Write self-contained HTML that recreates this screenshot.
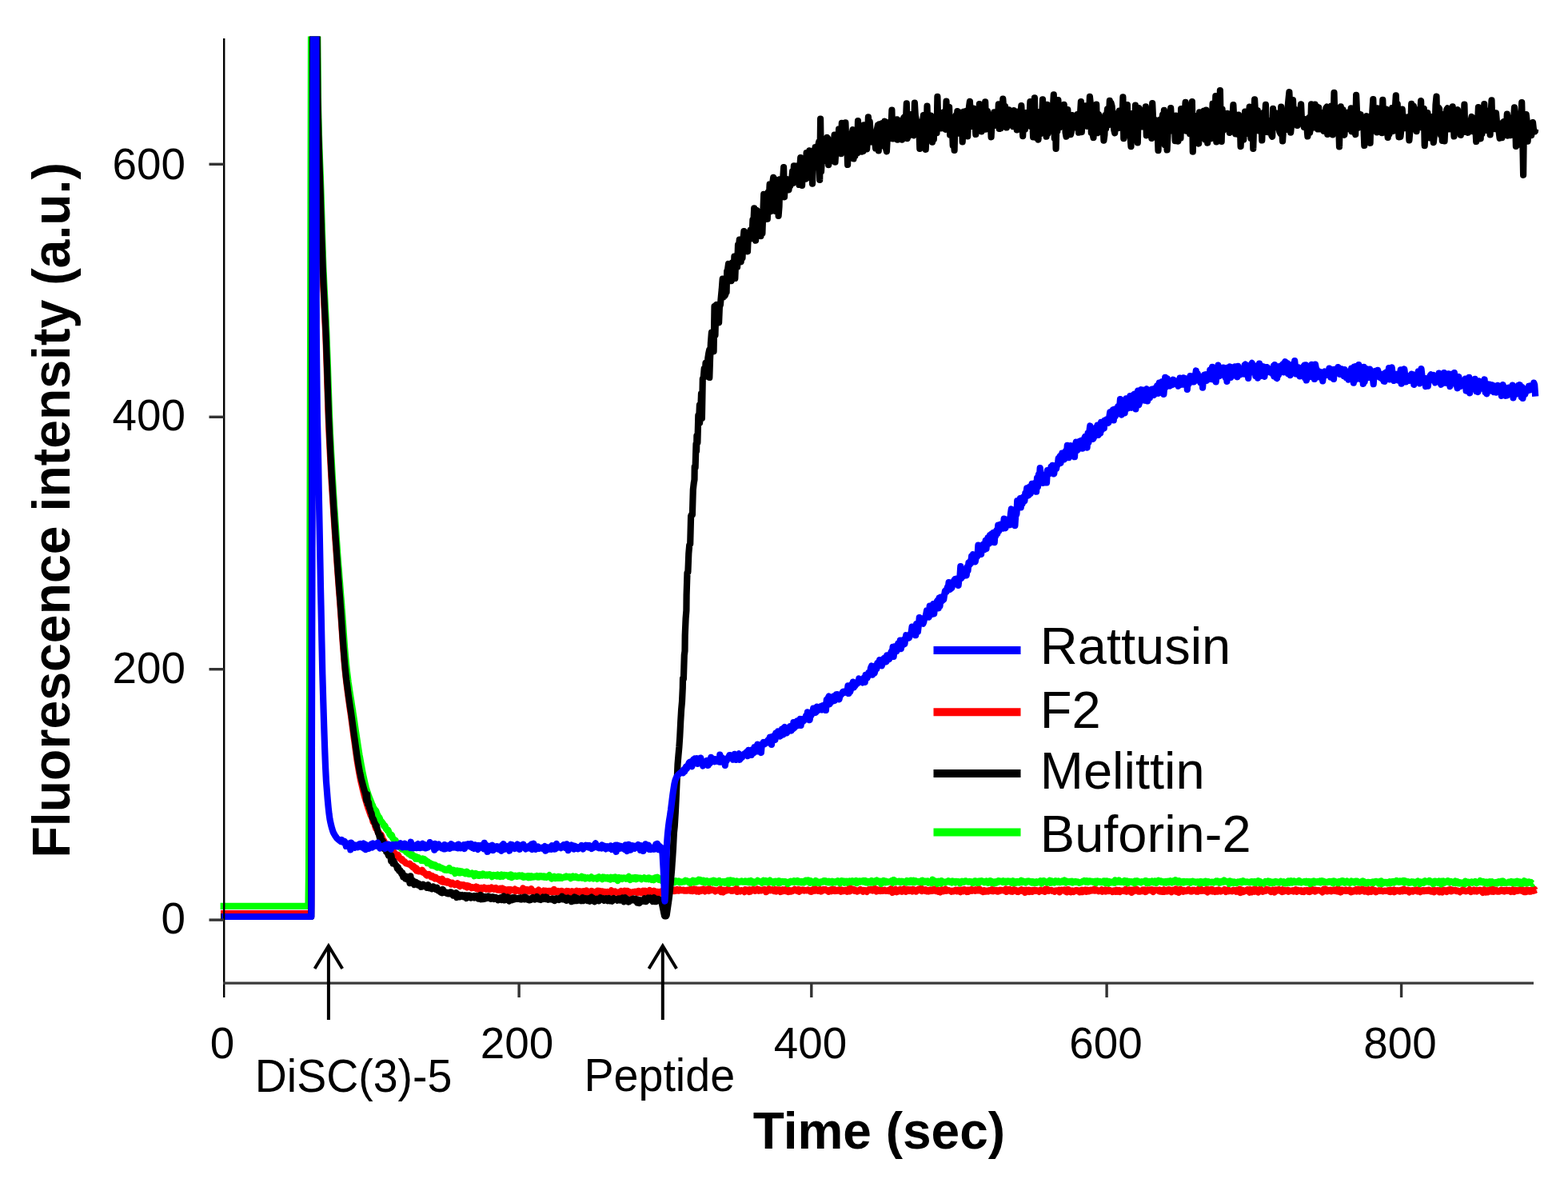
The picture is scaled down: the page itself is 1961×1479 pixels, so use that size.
<!DOCTYPE html>
<html lang="en"><head><meta charset="utf-8"><title>Membrane depolarization (DiSC(3)-5) fluorescence</title>
<style>
html,body{margin:0;padding:0;background:#fff;width:1961px;height:1479px;overflow:hidden;}
svg{display:block;}
</style></head><body>
<svg width="1961" height="1479" viewBox="0 0 1961 1479">
<rect width="1961" height="1479" fill="#fff"/>
<defs><clipPath id="pc"><rect x="270" y="45.5" width="1680" height="1183"/></clipPath></defs>
<g clip-path="url(#pc)" fill="none" stroke-width="8.2" stroke-linejoin="round" stroke-linecap="butt">
<path stroke="#ff0000" d="M276.0 1142.2L276.9 1142.2L277.8 1142.2L278.7 1142.2L279.6 1142.2L280.6 1142.2L281.5 1142.2L282.4 1142.2L283.3 1142.2L284.2 1142.2L285.2 1142.2L286.1 1142.2L287.0 1142.2L287.9 1142.2L288.8 1142.2L289.8 1142.2L290.7 1142.2L291.6 1142.2L292.5 1142.2L293.4 1142.2L294.4 1142.2L295.3 1142.2L296.2 1142.2L297.1 1142.2L298.0 1142.2L299.0 1142.2L299.9 1142.2L300.8 1142.2L301.7 1142.2L302.6 1142.2L303.6 1142.2L304.5 1142.2L305.4 1142.2L306.3 1142.2L307.2 1142.2L308.2 1142.2L309.1 1142.2L310.0 1142.2L310.9 1142.2L311.8 1142.2L312.8 1142.2L313.7 1142.2L314.6 1142.2L315.5 1142.2L316.4 1142.2L317.4 1142.2L318.3 1142.2L319.2 1142.2L320.1 1142.2L321.0 1142.2L322.0 1142.2L322.9 1142.2L323.8 1142.2L324.7 1142.2L325.7 1142.2L326.6 1142.2L327.5 1142.2L328.4 1142.2L329.3 1142.2L330.3 1142.2L331.2 1142.2L332.1 1142.2L333.0 1142.2L333.9 1142.2L334.9 1142.2L335.8 1142.2L336.7 1142.2L337.6 1142.2L338.5 1142.2L339.5 1142.2L340.4 1142.2L341.3 1142.2L342.2 1142.2L343.1 1142.2L344.1 1142.2L345.0 1142.2L345.9 1142.2L346.8 1142.2L347.7 1142.2L348.7 1142.2L349.6 1142.2L350.5 1142.2L351.4 1142.2L352.3 1142.2L353.3 1142.2L354.2 1142.2L355.1 1142.2L356.0 1142.2L356.9 1142.2L357.9 1142.2L358.8 1142.2L359.7 1142.2L360.6 1142.2L361.5 1142.2L362.5 1142.2L363.4 1142.2L364.3 1142.2L365.2 1142.2L366.1 1142.2L367.1 1142.2L368.0 1142.2L368.9 1142.2L369.8 1142.2L370.8 1142.2L371.7 1142.2L372.6 1142.2L373.5 1142.2L374.4 1142.2L375.4 1142.2L376.3 1142.2L377.2 1142.2L378.1 1142.2L379.0 1142.2L380.0 1142.2L380.9 1142.2L381.8 1142.2L382.7 1142.2L383.6 1142.2L384.6 1142.2L385.5 1142.2L386.4 1142.2L387.3 1142.2L388.2 1142.2L389.0 1142.2L389.2 1118.8L390.1 547.8L391.0 30.0L391.2 30.0L391.9 30.0L392.8 30.0L393.8 30.0L394.7 30.0L395.2 30.0L395.6 30.0L396.5 55.7L397.4 142.3L398.4 180.5L399.3 209.1L400.2 236.8L401.1 267.0L402.0 296.8L403.0 324.4L403.5 339.1L403.9 348.0L404.8 367.6L405.7 385.7L406.6 404.7L407.0 413.1L407.6 427.2L408.5 453.6L409.4 481.7L410.3 509.3L411.2 534.2L411.8 547.0L412.2 554.7L413.1 572.9L414.0 589.7L414.9 605.5L415.9 620.4L416.8 634.6L417.7 648.3L418.6 661.9L419.5 675.4L419.9 680.8L420.5 688.9L421.4 702.0L422.3 714.6L423.2 726.9L424.1 739.1L425.1 751.3L425.8 761.1L426.0 763.7L426.9 776.6L427.8 790.0L428.7 803.2L429.7 815.7L430.6 827.2L431.3 835.2L431.5 837.0L432.4 845.7L433.3 853.6L434.3 861.1L435.2 868.1L436.1 874.8L437.0 881.3L437.9 887.7L438.9 894.2L439.4 898.1L439.8 900.8L440.7 907.6L441.6 914.5L442.5 921.4L443.5 928.2L444.4 934.9L445.3 941.5L446.2 947.8L447.1 953.8L448.1 959.5L449.0 964.8L449.9 969.7L450.1 970.6L450.8 974.1L451.7 978.3L452.7 982.4L453.6 986.2L454.5 989.9L455.4 993.4L456.3 996.8L457.3 1000.0L458.2 1003.1L459.1 1006.0L460.0 1008.9L460.4 1010.0L461.0 1011.6L461.9 1014.2L462.8 1016.8L463.7 1019.2L464.6 1020.6L465.6 1022.7L466.5 1027.2L467.4 1026.3L468.3 1029.7L469.2 1032.8L470.2 1035.9L471.1 1035.6L472.0 1037.5L472.2 1038.8L472.9 1041.2L473.8 1040.4L474.8 1043.5L475.7 1045.0L476.6 1043.7L477.5 1045.8L478.4 1048.3L479.4 1050.9L480.3 1051.3L481.2 1055.1L482.1 1054.3L482.5 1055.5L483.0 1056.7L484.0 1058.1L484.9 1057.3L485.8 1058.8L486.7 1059.8L487.6 1060.2L488.6 1062.6L489.5 1063.9L490.4 1065.3L491.3 1065.0L492.2 1064.9L493.2 1066.6L493.3 1066.1L494.1 1068.3L495.0 1068.6L495.9 1069.6L496.8 1070.8L497.8 1068.9L498.7 1070.5L499.6 1072.7L500.5 1073.4L501.4 1073.5L502.4 1075.4L502.9 1074.1L503.3 1075.9L504.2 1075.8L505.1 1077.0L506.1 1077.2L507.0 1078.6L507.9 1079.4L508.8 1079.5L509.7 1079.9L510.7 1080.2L511.6 1080.5L512.5 1079.8L513.4 1081.0L514.3 1082.5L515.3 1082.3L516.2 1084.1L517.1 1082.8L518.0 1084.1L518.9 1086.3L519.9 1085.0L520.8 1085.4L521.1 1088.7L521.7 1087.3L522.6 1087.5L523.5 1089.3L524.5 1089.1L525.4 1089.4L526.3 1088.7L527.2 1089.4L528.1 1087.8L529.1 1090.9L530.0 1090.1L530.9 1091.5L531.8 1091.8L532.7 1093.5L533.7 1094.6L534.6 1094.1L535.5 1093.2L536.4 1092.9L537.3 1094.2L538.3 1094.7L539.2 1096.3L540.1 1094.7L541.0 1095.3L541.9 1097.3L542.9 1097.2L543.8 1098.5L544.7 1096.7L545.6 1098.0L546.5 1098.8L547.5 1098.7L548.4 1099.0L549.3 1100.0L550.2 1101.0L551.1 1101.4L551.9 1102.0L552.1 1100.2L553.0 1098.9L553.9 1102.6L554.8 1101.3L555.8 1101.3L556.7 1102.8L557.6 1102.0L558.5 1103.4L559.4 1101.7L560.4 1103.5L561.3 1103.1L562.2 1102.9L563.1 1104.1L564.0 1105.5L565.0 1104.7L565.9 1103.8L566.8 1104.8L567.7 1104.7L568.6 1106.1L569.6 1105.3L570.5 1105.0L571.4 1105.8L572.3 1104.4L573.2 1106.4L574.2 1107.4L575.1 1108.1L576.0 1105.9L576.9 1107.1L577.8 1106.4L578.8 1107.0L579.7 1106.2L580.6 1106.7L581.5 1108.3L582.4 1107.9L583.4 1107.3L584.3 1109.5L585.2 1107.3L586.1 1107.6L587.0 1108.0L588.0 1109.1L588.9 1108.8L589.8 1110.1L590.7 1109.2L591.6 1109.9L592.6 1109.4L593.5 1110.0L594.4 1109.4L595.3 1108.7L596.2 1111.0L597.2 1109.1L598.1 1111.7L599.0 1111.9L599.9 1110.2L600.9 1110.2L601.8 1109.9L602.7 1111.8L603.6 1110.5L604.5 1110.4L605.5 1109.5L606.4 1110.7L607.3 1110.3L608.2 1111.6L609.1 1111.0L610.1 1111.3L611.0 1110.4L611.9 1111.9L612.8 1111.8L613.7 1110.7L614.7 1109.7L615.6 1111.0L616.5 1111.1L617.4 1111.7L618.3 1110.5L619.3 1111.1L620.2 1110.1L621.1 1111.3L622.0 1112.5L622.9 1112.2L623.9 1112.6L624.8 1112.9L625.7 1110.8L626.6 1111.2L627.5 1113.1L628.5 1110.5L629.4 1111.9L630.3 1113.0L631.2 1111.8L632.1 1112.3L633.1 1112.9L634.0 1114.0L634.9 1112.3L635.8 1112.1L636.7 1114.7L637.7 1112.0L638.6 1112.0L639.5 1113.0L640.4 1112.5L641.3 1112.9L642.3 1113.4L643.2 1113.0L644.1 1111.6L645.0 1114.1L646.0 1112.6L646.9 1112.7L647.8 1113.5L648.7 1113.3L649.6 1114.2L650.6 1113.8L651.5 1113.1L652.4 1112.8L653.3 1113.9L654.2 1110.5L655.2 1113.7L656.1 1113.1L657.0 1113.5L657.9 1113.7L658.8 1112.2L659.8 1113.8L659.9 1112.3L660.7 1112.5L661.6 1114.4L662.5 1112.6L663.4 1114.1L664.4 1111.2L665.3 1114.0L666.2 1114.5L667.1 1115.4L668.0 1114.9L669.0 1114.3L669.9 1114.7L670.8 1114.9L671.7 1114.5L672.6 1114.1L673.6 1112.7L674.5 1115.5L675.4 1114.5L676.3 1114.9L677.2 1115.4L678.2 1115.2L679.1 1114.9L680.0 1113.6L680.9 1114.4L681.8 1114.7L682.8 1113.7L683.7 1114.1L684.6 1114.5L685.5 1114.0L686.4 1115.1L687.4 1113.9L688.3 1114.0L689.2 1114.8L690.1 1115.5L691.1 1113.2L692.0 1114.4L692.9 1111.9L693.8 1115.1L694.7 1113.9L695.7 1115.0L696.6 1114.4L697.5 1113.9L698.4 1115.3L699.3 1114.8L699.7 1114.5L700.3 1114.6L701.2 1114.2L702.1 1113.8L703.0 1114.0L703.9 1114.5L704.9 1115.0L705.8 1115.7L706.7 1115.4L707.6 1115.2L708.5 1114.2L709.5 1115.1L710.4 1115.9L711.3 1114.3L712.2 1115.5L713.1 1115.5L714.1 1115.0L715.0 1114.4L715.9 1116.9L716.8 1115.8L717.7 1114.7L718.7 1115.2L719.6 1115.6L720.5 1115.3L721.4 1113.7L722.3 1115.3L723.3 1114.3L724.2 1114.2L725.1 1115.3L726.0 1114.5L726.9 1115.3L727.9 1115.5L728.8 1115.9L729.7 1114.2L730.6 1115.3L731.5 1115.4L732.5 1115.9L733.4 1113.4L734.3 1114.3L735.2 1115.1L736.2 1115.6L737.1 1116.3L738.0 1114.7L738.9 1114.7L739.8 1116.2L740.2 1114.0L740.8 1114.3L741.7 1115.8L742.6 1115.5L743.5 1115.4L744.4 1114.9L745.4 1115.1L746.3 1116.4L747.2 1113.7L748.1 1114.7L749.0 1113.9L750.0 1113.9L750.9 1115.2L751.8 1114.7L752.7 1114.4L753.6 1114.4L754.6 1115.2L755.5 1115.6L756.4 1115.0L757.3 1115.7L758.2 1115.5L759.2 1116.8L760.1 1115.0L761.0 1115.9L761.9 1115.5L762.8 1115.1L763.8 1114.8L764.7 1113.4L765.6 1114.9L766.5 1116.3L767.4 1114.9L768.4 1115.6L769.3 1114.7L770.2 1115.7L771.1 1115.7L772.0 1115.5L773.0 1115.6L773.9 1116.7L774.8 1115.7L775.7 1115.1L776.6 1114.0L777.6 1115.3L778.5 1115.4L779.4 1114.6L780.3 1114.6L781.2 1113.7L782.2 1114.6L783.1 1115.1L784.0 1113.9L784.9 1113.8L785.9 1115.5L786.8 1115.0L787.7 1116.6L788.6 1115.4L789.5 1115.9L790.5 1115.3L791.4 1115.5L792.3 1115.3L793.2 1115.2L794.1 1114.7L795.1 1114.9L796.0 1115.6L796.9 1116.2L797.8 1114.0L798.7 1113.9L799.7 1115.5L800.6 1114.6L801.5 1116.4L802.4 1116.5L803.3 1115.4L804.3 1113.9L805.2 1116.0L806.1 1115.9L807.0 1113.7L807.9 1116.8L808.9 1114.6L809.8 1114.7L810.7 1115.3L811.6 1115.0L812.5 1112.9L813.5 1116.1L814.4 1115.4L815.3 1115.3L816.2 1115.7L817.1 1116.3L818.1 1113.8L819.0 1114.9L819.9 1116.7L820.8 1115.7L821.7 1114.8L822.7 1114.8L823.6 1116.4L824.5 1115.2L825.4 1114.9L826.3 1114.8L827.3 1114.8L828.2 1116.7L829.1 1113.5L830.0 1115.0L831.0 1113.6L831.3 1112.7L831.9 1115.1L832.8 1115.1L833.7 1112.4L834.1 1113.3L834.6 1113.5L835.6 1114.0L836.5 1111.6L837.4 1113.5L838.3 1114.3L839.2 1113.5L840.2 1114.1L841.1 1113.0L842.0 1113.5L842.9 1114.0L843.8 1112.6L844.8 1113.7L845.7 1112.5L846.6 1112.0L847.5 1113.4L848.4 1113.7L849.4 1112.9L850.3 1112.3L851.2 1113.1L852.1 1113.0L853.0 1113.1L854.0 1112.8L854.9 1112.6L855.8 1113.7L856.7 1113.5L857.6 1113.1L858.6 1113.7L859.5 1113.0L860.4 1112.6L861.3 1113.1L862.2 1113.6L863.2 1113.8L864.1 1111.6L865.0 1112.3L865.9 1114.1L866.8 1113.8L867.8 1111.5L868.7 1111.8L869.6 1113.0L870.5 1112.1L871.4 1114.4L872.4 1113.1L873.3 1112.5L874.2 1114.7L875.1 1113.8L876.1 1112.4L877.0 1112.1L877.9 1113.6L878.8 1112.8L879.7 1111.7L880.7 1113.4L881.6 1114.3L882.5 1113.2L883.4 1113.4L884.3 1112.0L885.3 1113.0L886.2 1113.8L887.1 1111.0L888.0 1113.5L888.9 1112.7L889.9 1112.5L890.8 1112.4L891.7 1113.0L892.6 1112.6L893.5 1113.2L894.5 1114.3L895.4 1113.3L896.3 1113.3L897.2 1113.3L898.1 1113.0L899.1 1113.6L900.0 1112.0L900.9 1111.7L901.8 1115.0L902.7 1113.1L903.7 1113.7L904.6 1115.4L905.5 1112.8L906.4 1113.6L907.3 1113.4L908.3 1113.7L909.2 1112.2L910.1 1112.0L911.0 1112.9L911.9 1112.5L912.9 1113.2L913.8 1113.0L914.7 1113.8L915.6 1113.1L916.5 1113.7L917.5 1112.8L918.4 1112.4L919.3 1112.8L920.2 1112.1L921.2 1110.8L922.1 1114.9L923.0 1113.1L923.9 1113.6L924.8 1113.5L925.8 1114.3L926.7 1113.1L927.6 1113.3L928.5 1113.7L929.4 1113.3L930.4 1113.6L931.3 1115.1L932.2 1112.2L933.1 1113.4L934.0 1113.9L935.0 1112.9L935.9 1113.7L936.8 1115.0L937.7 1112.3L938.6 1114.6L939.6 1113.3L940.5 1113.0L941.4 1112.0L942.3 1112.1L943.2 1113.0L944.2 1113.8L945.1 1113.5L946.0 1112.2L946.9 1111.6L947.8 1112.7L948.8 1113.7L949.7 1112.2L950.6 1113.4L951.5 1113.5L952.4 1113.4L953.4 1112.6L954.3 1112.9L955.2 1112.3L956.1 1112.0L957.0 1112.7L958.0 1115.1L958.9 1114.6L959.8 1113.0L960.7 1113.2L961.6 1111.3L962.6 1113.2L963.5 1113.3L964.4 1112.3L965.3 1112.2L966.3 1113.3L967.2 1112.7L968.1 1114.1L969.0 1113.9L969.9 1112.1L970.9 1114.4L971.8 1112.3L972.7 1112.5L973.6 1112.5L974.5 1112.3L975.5 1112.6L976.4 1115.0L977.3 1114.0L978.2 1113.7L979.1 1112.3L980.1 1114.1L981.0 1113.7L981.9 1113.5L982.8 1112.0L983.7 1114.4L984.7 1114.3L985.6 1112.6L986.5 1115.0L987.4 1112.9L988.3 1113.5L989.3 1114.5L990.2 1113.5L991.1 1114.0L992.0 1113.0L992.9 1112.8L993.9 1111.9L994.8 1113.2L995.7 1113.1L996.6 1113.6L997.5 1113.2L998.5 1112.2L999.4 1114.8L1000.3 1112.6L1001.2 1113.6L1002.1 1113.1L1003.1 1112.9L1004.0 1112.4L1004.9 1112.9L1005.8 1113.5L1006.7 1112.9L1007.7 1113.1L1008.6 1113.3L1009.5 1113.0L1010.4 1112.4L1011.3 1113.0L1012.3 1113.0L1013.2 1114.3L1014.1 1113.3L1015.0 1114.8L1016.0 1112.5L1016.9 1114.0L1017.8 1112.0L1018.7 1110.6L1019.6 1113.5L1020.6 1112.0L1021.5 1112.8L1022.4 1113.6L1023.3 1113.9L1024.2 1112.7L1025.2 1112.0L1026.1 1112.9L1027.0 1114.5L1027.9 1114.1L1028.8 1113.4L1029.8 1112.0L1030.7 1112.9L1031.6 1112.9L1032.5 1112.1L1033.4 1113.3L1034.4 1113.2L1035.3 1113.3L1036.2 1114.7L1037.1 1112.8L1038.0 1112.8L1039.0 1112.3L1039.9 1114.2L1040.8 1113.9L1041.7 1112.4L1042.6 1112.9L1043.6 1112.0L1044.5 1113.9L1045.4 1113.0L1046.3 1113.8L1047.2 1112.9L1048.2 1113.6L1049.1 1112.7L1050.0 1112.2L1050.9 1112.6L1051.8 1114.7L1052.8 1112.4L1053.7 1112.8L1054.6 1114.1L1055.5 1114.0L1056.4 1113.2L1057.4 1112.7L1058.3 1113.6L1059.2 1114.6L1060.1 1112.9L1061.1 1113.0L1062.0 1111.1L1062.9 1114.3L1063.8 1111.0L1064.7 1111.7L1065.7 1112.9L1066.6 1111.8L1067.5 1113.1L1068.4 1112.3L1069.3 1113.8L1070.3 1113.1L1071.2 1114.1L1072.1 1114.6L1073.0 1113.4L1073.9 1113.8L1074.9 1112.7L1075.8 1112.1L1076.7 1113.3L1077.6 1113.2L1078.5 1113.0L1079.5 1114.7L1080.4 1113.0L1081.3 1113.2L1082.2 1113.2L1083.1 1114.2L1084.1 1114.9L1085.0 1113.4L1085.9 1112.9L1086.8 1112.0L1087.7 1112.2L1088.7 1111.9L1089.6 1112.9L1090.5 1112.2L1091.4 1113.4L1092.3 1112.7L1093.3 1112.4L1094.2 1110.9L1095.1 1113.0L1096.0 1114.3L1096.9 1112.0L1097.9 1113.9L1098.8 1113.3L1099.7 1113.5L1100.6 1114.0L1101.5 1112.1L1102.5 1112.7L1103.4 1113.8L1104.3 1113.2L1105.2 1113.6L1106.2 1112.7L1107.1 1113.6L1108.0 1113.9L1108.9 1113.8L1109.8 1113.6L1110.8 1113.0L1111.7 1114.0L1112.6 1113.3L1113.5 1112.8L1114.4 1111.2L1115.4 1112.5L1116.3 1115.8L1117.2 1113.7L1118.1 1113.6L1119.0 1113.0L1120.0 1111.9L1120.9 1112.6L1121.8 1115.2L1122.7 1113.0L1123.6 1113.1L1124.6 1112.9L1125.5 1112.1L1126.4 1114.2L1127.3 1112.3L1128.2 1114.7L1129.2 1113.2L1130.1 1112.9L1131.0 1111.3L1131.9 1113.9L1132.8 1114.7L1133.8 1112.6L1134.7 1113.8L1135.6 1111.9L1136.5 1113.9L1137.4 1114.0L1138.4 1112.2L1139.3 1113.2L1140.2 1112.4L1141.1 1114.5L1142.0 1111.8L1143.0 1113.8L1143.9 1112.5L1144.8 1114.1L1145.7 1114.6L1146.6 1113.5L1147.6 1113.1L1148.5 1111.9L1149.4 1113.0L1150.3 1112.6L1151.3 1112.7L1152.2 1110.6L1153.1 1114.0L1154.0 1112.2L1154.9 1113.4L1155.9 1113.0L1156.8 1113.7L1157.7 1112.3L1158.6 1114.4L1159.5 1114.4L1160.5 1113.4L1161.4 1114.3L1162.3 1112.7L1163.2 1112.5L1164.1 1113.9L1165.1 1112.6L1166.0 1113.8L1166.9 1113.3L1167.8 1113.3L1168.7 1111.6L1169.7 1113.3L1170.6 1114.1L1171.5 1114.1L1172.4 1112.2L1173.3 1114.7L1174.3 1113.7L1175.2 1113.6L1176.1 1115.4L1177.0 1113.7L1177.9 1112.4L1178.9 1113.1L1179.8 1114.1L1180.7 1112.7L1181.6 1112.8L1182.5 1111.5L1183.5 1113.9L1184.4 1113.6L1185.3 1113.2L1186.2 1113.4L1187.1 1113.2L1188.1 1113.4L1189.0 1113.9L1189.9 1114.7L1190.8 1113.8L1191.7 1114.5L1192.7 1114.2L1193.6 1113.8L1194.5 1112.9L1195.4 1112.6L1196.4 1114.2L1197.3 1113.0L1198.2 1112.6L1199.1 1113.3L1200.0 1114.7L1201.0 1115.2L1201.9 1112.6L1202.8 1112.5L1203.7 1113.1L1204.6 1114.2L1205.6 1112.1L1206.5 1112.3L1207.4 1113.4L1208.3 1113.5L1209.2 1115.0L1210.2 1112.7L1211.1 1114.7L1212.0 1112.7L1212.9 1112.7L1213.8 1113.2L1214.8 1112.0L1215.7 1113.6L1216.6 1112.8L1217.5 1112.6L1218.4 1113.1L1219.4 1113.7L1220.3 1112.3L1221.2 1113.0L1222.1 1113.5L1223.0 1113.5L1224.0 1113.2L1224.9 1111.4L1225.8 1113.2L1226.7 1113.5L1227.6 1114.3L1228.6 1114.4L1229.5 1115.0L1230.4 1113.1L1231.3 1113.3L1232.2 1114.2L1233.2 1114.6L1234.1 1113.6L1235.0 1113.8L1235.9 1114.5L1236.8 1113.1L1237.8 1113.2L1238.7 1113.4L1239.6 1112.7L1240.5 1113.9L1241.4 1112.2L1242.4 1114.2L1243.3 1112.9L1244.2 1112.8L1245.1 1113.6L1246.1 1113.1L1247.0 1114.5L1247.9 1114.7L1248.8 1113.5L1249.7 1114.0L1250.7 1112.8L1251.6 1113.3L1252.5 1112.8L1253.4 1113.1L1254.3 1113.2L1255.3 1113.3L1256.2 1113.7L1257.1 1113.8L1258.0 1111.6L1258.9 1114.9L1259.9 1113.5L1260.8 1112.5L1261.7 1113.0L1262.6 1112.1L1263.5 1112.9L1264.5 1114.5L1265.4 1113.7L1266.3 1114.6L1267.2 1112.5L1268.1 1112.1L1269.1 1113.8L1270.0 1112.9L1270.9 1113.7L1271.8 1114.6L1272.7 1113.8L1273.7 1114.8L1274.6 1113.9L1275.5 1113.2L1276.4 1112.8L1277.3 1112.3L1278.3 1113.7L1279.2 1113.2L1280.1 1113.0L1281.0 1112.9L1281.9 1115.9L1282.9 1114.1L1283.8 1112.7L1284.7 1114.4L1285.6 1113.2L1286.5 1112.7L1287.5 1115.0L1288.4 1113.6L1289.3 1113.2L1290.2 1113.4L1291.2 1114.7L1292.1 1113.1L1293.0 1113.9L1293.9 1112.7L1294.8 1113.0L1295.8 1113.9L1296.7 1113.3L1297.6 1114.0L1298.5 1114.0L1299.4 1114.8L1300.4 1113.6L1301.3 1112.7L1302.2 1113.3L1303.1 1113.4L1304.0 1114.0L1305.0 1113.9L1305.9 1112.8L1306.8 1114.7L1307.7 1111.7L1308.6 1113.5L1309.6 1111.6L1310.5 1112.4L1311.4 1113.8L1312.3 1112.8L1313.2 1113.2L1314.2 1113.1L1315.1 1112.8L1316.0 1113.9L1316.9 1114.0L1317.8 1113.8L1318.8 1114.7L1319.7 1113.7L1320.6 1113.3L1321.5 1113.3L1322.4 1113.3L1323.4 1113.8L1324.3 1112.8L1325.2 1115.3L1326.1 1113.8L1327.0 1113.8L1328.0 1112.7L1328.9 1112.9L1329.8 1112.8L1330.7 1113.5L1331.6 1112.7L1332.6 1114.4L1333.5 1113.4L1334.4 1115.3L1335.3 1112.0L1336.3 1112.1L1337.2 1114.0L1338.1 1114.3L1339.0 1115.3L1339.9 1114.8L1340.9 1113.4L1341.8 1113.7L1342.7 1114.8L1343.6 1114.0L1344.5 1114.1L1345.5 1113.1L1346.4 1112.9L1347.3 1113.7L1348.2 1113.4L1349.1 1113.5L1350.1 1115.3L1351.0 1113.4L1351.9 1113.6L1352.8 1112.9L1353.7 1115.1L1354.7 1112.9L1355.6 1114.1L1356.5 1113.3L1357.4 1112.5L1358.3 1114.8L1359.3 1114.7L1360.2 1112.7L1361.1 1114.5L1362.0 1114.4L1362.9 1113.0L1363.9 1113.7L1364.8 1112.8L1365.7 1113.3L1366.6 1113.5L1367.5 1112.7L1368.5 1111.6L1369.4 1113.6L1370.3 1112.2L1371.2 1112.5L1372.1 1113.4L1373.1 1113.1L1374.0 1114.3L1374.9 1114.1L1375.8 1113.3L1376.7 1113.6L1377.7 1112.4L1378.6 1114.7L1379.5 1113.8L1380.4 1114.1L1381.4 1113.7L1382.3 1112.5L1383.2 1114.6L1384.1 1112.8L1384.5 1114.0L1385.0 1113.8L1386.0 1112.7L1386.9 1113.8L1387.8 1112.9L1388.7 1113.4L1389.6 1113.7L1390.6 1113.8L1391.5 1115.0L1392.4 1114.2L1393.3 1113.4L1394.2 1113.3L1395.2 1114.8L1396.1 1112.7L1397.0 1113.0L1397.9 1114.7L1398.8 1114.4L1399.8 1113.1L1400.7 1115.0L1401.6 1114.2L1402.5 1113.6L1403.4 1113.6L1404.4 1113.6L1405.3 1113.2L1406.2 1114.2L1407.1 1113.9L1408.0 1111.7L1409.0 1114.7L1409.9 1113.9L1410.8 1113.4L1411.7 1114.1L1412.6 1112.5L1413.6 1113.5L1414.5 1112.9L1415.4 1115.8L1416.3 1112.5L1417.2 1112.5L1418.2 1114.2L1419.1 1112.4L1420.0 1113.3L1420.9 1112.7L1421.8 1111.9L1422.8 1113.4L1423.7 1114.4L1424.6 1113.5L1425.5 1114.6L1426.5 1114.2L1427.4 1114.2L1428.3 1114.1L1429.2 1112.5L1430.1 1112.8L1431.1 1114.3L1432.0 1112.5L1432.9 1115.0L1433.8 1114.1L1434.7 1113.6L1435.7 1112.5L1436.6 1112.9L1437.5 1113.1L1438.4 1112.4L1439.3 1112.9L1440.3 1112.3L1441.2 1114.2L1442.1 1115.0L1443.0 1113.9L1443.9 1112.8L1444.9 1113.3L1445.8 1112.7L1446.7 1112.9L1447.6 1113.0L1448.5 1112.8L1449.5 1114.1L1450.4 1112.5L1451.3 1114.4L1452.2 1113.6L1453.1 1114.7L1454.1 1113.1L1455.0 1114.8L1455.9 1112.3L1456.8 1114.7L1457.7 1113.3L1458.7 1113.6L1459.6 1114.3L1460.5 1112.4L1461.4 1113.9L1462.3 1112.2L1463.3 1114.4L1464.2 1114.2L1465.1 1115.2L1466.0 1113.0L1466.9 1112.7L1467.9 1113.3L1468.8 1113.6L1469.7 1114.3L1470.6 1111.5L1471.5 1112.9L1472.5 1115.1L1473.4 1113.8L1474.3 1115.8L1475.2 1112.1L1476.2 1111.8L1477.1 1112.2L1478.0 1113.5L1478.9 1114.0L1479.8 1114.7L1480.8 1113.0L1481.7 1114.1L1482.6 1113.8L1483.5 1114.1L1484.4 1113.8L1485.4 1112.7L1486.3 1112.0L1487.2 1113.4L1488.1 1113.5L1489.0 1114.5L1490.0 1114.6L1490.9 1114.4L1491.8 1112.7L1492.7 1113.3L1493.6 1112.7L1494.6 1113.1L1495.5 1113.8L1496.4 1114.6L1497.3 1113.8L1498.2 1114.7L1499.2 1111.8L1500.1 1113.3L1501.0 1113.8L1501.9 1111.8L1502.8 1113.8L1503.8 1113.0L1504.7 1113.6L1505.6 1113.2L1506.5 1113.8L1507.4 1113.1L1508.4 1112.3L1509.3 1114.6L1510.2 1115.4L1511.1 1112.3L1512.0 1113.4L1513.0 1112.7L1513.9 1113.8L1514.8 1112.1L1515.7 1111.9L1516.6 1114.5L1517.6 1112.9L1518.5 1114.0L1519.4 1114.9L1520.3 1113.8L1521.3 1113.0L1522.2 1114.7L1523.1 1114.6L1524.0 1112.4L1524.9 1113.5L1525.9 1113.2L1526.8 1114.5L1527.7 1114.1L1528.6 1113.4L1529.5 1113.4L1530.5 1113.4L1531.4 1112.1L1532.3 1113.4L1533.2 1114.9L1534.1 1114.3L1535.1 1113.6L1536.0 1112.4L1536.9 1114.2L1537.8 1113.9L1538.7 1113.6L1539.7 1114.2L1540.6 1114.3L1541.5 1113.8L1542.4 1112.7L1543.3 1113.1L1544.3 1113.8L1545.2 1113.2L1546.1 1114.7L1547.0 1112.7L1547.9 1112.9L1548.9 1113.3L1549.8 1115.0L1550.7 1111.8L1551.6 1116.1L1552.5 1114.5L1553.5 1114.4L1554.4 1113.0L1555.3 1114.9L1556.2 1113.4L1557.1 1113.7L1558.1 1113.8L1559.0 1112.8L1559.9 1112.3L1560.8 1113.2L1561.7 1113.8L1562.7 1115.6L1563.6 1112.3L1564.5 1113.8L1565.4 1115.2L1566.4 1113.4L1567.3 1112.3L1568.2 1113.7L1569.1 1114.6L1570.0 1111.6L1571.0 1113.0L1571.9 1113.3L1572.8 1112.7L1573.7 1115.5L1574.6 1113.6L1575.6 1113.7L1576.5 1111.6L1577.4 1114.1L1578.3 1114.1L1579.2 1114.8L1580.2 1114.3L1581.1 1113.8L1582.0 1113.3L1582.9 1113.7L1583.8 1111.8L1584.8 1113.1L1585.7 1113.0L1586.6 1112.4L1587.5 1113.0L1588.4 1114.0L1589.4 1114.9L1590.3 1113.3L1591.2 1114.3L1592.1 1112.4L1593.0 1114.2L1594.0 1115.5L1594.9 1113.5L1595.8 1112.6L1596.7 1113.8L1597.6 1113.4L1598.6 1113.4L1599.5 1112.1L1600.4 1113.3L1601.3 1113.6L1602.2 1114.1L1603.2 1115.0L1604.1 1112.3L1605.0 1112.6L1605.9 1114.4L1606.8 1113.0L1607.8 1113.3L1608.7 1113.9L1609.6 1113.9L1610.5 1112.9L1611.5 1114.6L1612.4 1114.0L1613.3 1113.6L1614.2 1113.6L1615.1 1113.8L1616.1 1113.4L1617.0 1113.1L1617.9 1114.4L1618.8 1113.5L1619.7 1114.0L1620.7 1112.3L1621.6 1114.8L1622.5 1113.8L1623.4 1113.0L1624.3 1113.8L1625.3 1113.9L1626.2 1114.1L1627.1 1113.3L1628.0 1114.6L1628.9 1113.7L1629.9 1113.7L1630.8 1114.9L1631.7 1113.3L1632.6 1114.0L1633.5 1113.3L1634.5 1112.8L1635.4 1113.3L1636.3 1114.6L1637.2 1113.3L1638.1 1115.0L1639.1 1114.2L1640.0 1112.1L1640.9 1113.6L1641.8 1112.2L1642.7 1113.7L1643.7 1113.6L1644.6 1114.5L1645.5 1112.7L1646.4 1113.7L1647.3 1113.0L1648.3 1113.2L1649.2 1113.1L1650.1 1113.3L1651.0 1113.6L1651.9 1113.6L1652.9 1114.2L1653.8 1115.4L1654.7 1113.1L1655.6 1111.7L1656.6 1112.6L1657.5 1111.5L1658.4 1113.1L1659.3 1114.4L1660.2 1114.4L1661.2 1112.9L1662.1 1113.2L1663.0 1113.7L1663.9 1112.9L1664.8 1114.3L1665.8 1113.1L1666.7 1113.8L1667.6 1113.4L1668.5 1112.5L1669.4 1113.6L1670.4 1112.3L1671.3 1112.3L1672.2 1114.2L1673.1 1111.5L1674.0 1114.6L1675.0 1113.6L1675.9 1112.9L1676.8 1115.5L1677.7 1112.6L1678.6 1112.5L1679.6 1113.6L1680.5 1113.3L1681.4 1113.3L1682.3 1113.7L1683.2 1112.6L1684.2 1113.8L1685.1 1113.5L1686.0 1113.2L1686.9 1112.8L1687.8 1112.5L1688.8 1114.8L1689.7 1115.3L1690.6 1113.6L1691.5 1113.6L1692.4 1114.5L1693.4 1113.2L1694.3 1113.0L1695.2 1113.2L1696.1 1112.1L1697.0 1114.4L1698.0 1113.5L1698.9 1111.8L1699.8 1112.9L1700.7 1114.5L1701.6 1113.3L1702.6 1112.5L1703.5 1111.7L1704.4 1112.9L1705.3 1112.5L1706.3 1114.5L1707.2 1113.7L1708.1 1112.5L1709.0 1114.4L1709.9 1113.6L1710.9 1115.2L1711.8 1112.2L1712.7 1113.6L1713.6 1113.0L1714.5 1114.8L1715.5 1114.7L1716.4 1111.9L1717.3 1113.8L1718.2 1114.0L1719.1 1113.1L1720.1 1113.0L1721.0 1115.2L1721.9 1114.4L1722.8 1113.5L1723.7 1113.5L1724.7 1113.2L1725.6 1113.9L1726.5 1113.8L1727.4 1113.3L1728.3 1114.1L1729.3 1114.3L1730.2 1114.0L1731.1 1113.5L1732.0 1113.7L1732.9 1113.9L1733.9 1113.7L1734.8 1113.6L1735.7 1113.2L1736.6 1113.2L1737.5 1114.7L1738.5 1112.7L1739.4 1114.9L1740.3 1113.1L1741.2 1114.2L1742.1 1113.0L1743.1 1112.6L1744.0 1115.2L1744.9 1113.0L1745.8 1113.3L1746.7 1113.9L1747.7 1113.2L1748.6 1114.0L1749.5 1113.4L1750.4 1114.5L1751.4 1112.9L1752.3 1113.0L1753.2 1112.9L1754.1 1114.1L1755.0 1111.9L1756.0 1111.8L1756.9 1113.6L1757.8 1113.9L1758.7 1113.9L1759.6 1112.9L1760.6 1112.6L1761.5 1114.2L1762.4 1115.3L1763.3 1113.2L1764.2 1113.6L1765.2 1113.4L1766.1 1113.1L1767.0 1114.5L1767.9 1113.5L1768.8 1113.8L1769.8 1113.2L1770.7 1112.5L1771.6 1113.6L1772.5 1114.3L1773.4 1112.5L1774.4 1112.9L1775.3 1113.7L1776.2 1115.1L1777.1 1114.3L1778.0 1113.4L1779.0 1113.1L1779.9 1114.0L1780.8 1113.2L1781.7 1114.1L1782.6 1113.9L1783.6 1113.1L1784.5 1113.8L1785.4 1113.5L1786.3 1112.8L1787.2 1112.6L1788.2 1114.1L1789.1 1113.8L1790.0 1114.7L1790.9 1114.7L1791.8 1113.3L1792.8 1114.0L1793.7 1115.2L1794.6 1113.1L1795.5 1114.3L1796.5 1113.9L1797.4 1113.2L1798.3 1113.2L1799.2 1113.6L1800.1 1115.3L1801.1 1113.1L1802.0 1114.1L1802.9 1114.8L1803.8 1115.5L1804.7 1112.4L1805.7 1113.5L1806.6 1113.5L1807.5 1113.1L1808.4 1113.7L1809.3 1114.9L1810.3 1113.0L1811.2 1112.7L1812.1 1113.1L1813.0 1112.3L1813.9 1111.9L1814.9 1114.3L1815.8 1114.0L1816.7 1112.8L1817.6 1113.4L1818.5 1113.4L1819.5 1112.8L1820.4 1112.9L1821.3 1114.0L1822.2 1113.5L1823.1 1114.2L1824.1 1113.8L1825.0 1114.6L1825.9 1115.3L1826.8 1114.0L1827.7 1114.1L1828.7 1112.8L1829.6 1112.2L1830.5 1113.6L1831.4 1113.2L1832.3 1114.1L1833.3 1114.4L1834.2 1113.8L1835.1 1113.8L1836.0 1113.3L1836.9 1113.5L1837.9 1112.1L1838.8 1113.8L1839.7 1115.0L1840.6 1113.5L1841.6 1114.2L1842.5 1113.4L1843.4 1112.6L1844.3 1114.1L1845.2 1113.6L1846.2 1113.1L1847.1 1114.4L1848.0 1113.4L1848.9 1113.1L1849.8 1112.9L1850.8 1112.6L1851.7 1113.1L1852.6 1113.2L1853.5 1114.8L1854.4 1115.9L1855.4 1114.4L1856.3 1112.3L1857.2 1113.5L1858.1 1115.5L1859.0 1113.9L1860.0 1113.3L1860.9 1115.2L1861.8 1113.1L1862.7 1114.6L1863.6 1112.7L1864.6 1113.5L1865.5 1110.9L1866.4 1114.7L1867.3 1113.3L1868.2 1114.8L1869.2 1112.6L1870.1 1113.5L1871.0 1112.8L1871.9 1113.5L1872.8 1114.6L1873.8 1114.1L1874.7 1114.6L1875.6 1114.5L1876.5 1113.4L1877.4 1112.6L1878.4 1112.8L1879.3 1113.1L1880.2 1114.1L1881.1 1113.1L1882.0 1114.3L1883.0 1113.4L1883.9 1112.8L1884.8 1113.7L1885.7 1114.0L1886.7 1113.9L1887.6 1113.0L1888.5 1113.8L1889.4 1114.8L1890.3 1113.9L1891.3 1114.5L1892.2 1112.3L1893.1 1113.6L1894.0 1114.8L1894.9 1113.3L1895.9 1112.9L1896.8 1113.2L1897.7 1113.9L1898.6 1113.4L1899.5 1113.3L1900.5 1112.7L1901.4 1113.3L1902.3 1111.6L1903.2 1113.8L1904.1 1112.2L1905.1 1113.6L1906.0 1115.0L1906.9 1114.6L1907.8 1115.1L1908.7 1115.1L1909.7 1112.5L1910.6 1114.1L1911.5 1113.0L1912.4 1114.3L1913.3 1113.6L1914.3 1114.5L1915.2 1112.8L1916.1 1113.8L1917.0 1114.0L1917.9 1113.7L1918.9 1111.7L1919.8 1113.2L1920.2 1112.8"/>
<path stroke="#00ff00" d="M275.6 1132.9L276.5 1132.9L277.4 1132.9L278.3 1132.9L279.3 1132.9L280.2 1132.9L281.1 1132.9L282.0 1132.9L282.9 1132.9L283.9 1132.9L284.8 1132.9L285.7 1132.9L286.6 1132.9L287.5 1132.9L288.5 1132.9L289.4 1132.9L290.3 1132.9L291.2 1132.9L292.1 1132.9L293.1 1132.9L294.0 1132.9L294.9 1132.9L295.8 1132.9L296.8 1132.9L297.7 1132.9L298.6 1132.9L299.5 1132.9L300.4 1132.9L301.4 1132.9L302.3 1132.9L303.2 1132.9L304.1 1132.9L305.0 1132.9L306.0 1132.9L306.9 1132.9L307.8 1132.9L308.7 1132.9L309.6 1132.9L310.6 1132.9L311.5 1132.9L312.4 1132.9L313.3 1132.9L314.2 1132.9L315.2 1132.9L316.1 1132.9L317.0 1132.9L317.9 1132.9L318.8 1132.9L319.8 1132.9L320.7 1132.9L321.6 1132.9L322.5 1132.9L323.4 1132.9L324.4 1132.9L325.3 1132.9L326.2 1132.9L327.1 1132.9L328.0 1132.9L329.0 1132.9L329.9 1132.9L330.8 1132.9L331.7 1132.9L332.6 1132.9L333.6 1132.9L334.5 1132.9L335.4 1132.9L336.3 1132.9L337.2 1132.9L338.2 1132.9L339.1 1132.9L340.0 1132.9L340.9 1132.9L341.9 1132.9L342.8 1132.9L343.7 1132.9L344.6 1132.9L345.5 1132.9L346.5 1132.9L347.4 1132.9L348.3 1132.9L349.2 1132.9L350.1 1132.9L351.1 1132.9L352.0 1132.9L352.9 1132.9L353.8 1132.9L354.7 1132.9L355.7 1132.9L356.6 1132.9L357.5 1132.9L358.4 1132.9L359.3 1132.9L360.3 1132.9L361.2 1132.9L362.1 1132.9L363.0 1132.9L363.9 1132.9L364.9 1132.9L365.8 1132.9L366.7 1132.9L367.6 1132.9L368.5 1132.9L369.5 1132.9L370.4 1132.9L371.3 1132.9L372.2 1132.9L373.1 1132.9L374.1 1132.9L375.0 1132.9L375.9 1132.9L376.8 1132.9L377.7 1132.9L378.7 1132.9L379.6 1132.9L380.5 1132.9L381.4 1132.9L382.3 1132.9L383.3 1132.9L384.2 1132.9L385.1 1132.9L385.5 1132.9L386.0 1091.0L387.0 867.7L387.9 520.0L388.8 125.5L389.0 47.8L389.2 30.0L389.7 30.0L390.6 30.0L391.6 30.0L392.5 30.0L393.4 30.0L394.3 30.0L395.2 30.0L396.0 30.0L396.2 30.0L397.1 33.6L398.0 128.4L398.2 139.1L398.9 167.8L399.8 194.2L400.8 218.1L401.1 228.9L401.7 246.7L402.6 277.9L403.5 308.2L404.4 334.4L405.4 355.2L406.3 373.0L407.2 390.4L408.1 410.0L409.0 433.6L410.0 460.2L410.9 487.6L411.8 513.8L412.7 536.7L412.9 540.7L413.6 555.8L414.6 573.4L415.5 590.0L416.4 605.6L417.3 620.4L418.2 634.6L419.2 648.3L420.1 661.7L421.0 675.0L421.2 677.7L421.9 688.1L422.8 700.5L423.8 712.4L424.7 724.0L425.6 735.4L426.5 747.0L427.3 756.4L427.4 758.8L428.4 771.4L429.3 784.4L430.2 797.3L431.1 809.6L432.1 820.9L433.0 830.4L433.9 838.6L434.8 846.1L435.7 853.0L436.7 859.5L437.6 865.6L438.5 871.4L439.4 877.2L440.3 883.1L441.3 889.0L441.4 890.3L442.2 895.2L443.1 901.4L444.0 907.7L444.9 913.9L445.9 920.1L446.8 926.2L447.7 932.2L448.6 938.0L449.5 943.7L450.5 949.1L451.4 954.3L452.3 959.2L452.7 961.1L453.2 963.9L454.1 968.5L455.1 972.9L456.0 977.1L456.9 981.0L457.8 984.6L458.7 987.8L458.9 988.4L459.7 990.6L460.6 993.3L461.5 995.8L462.4 998.2L463.3 1000.5L464.3 1002.8L465.2 1005.5L466.1 1006.9L467.0 1010.5L467.9 1010.6L468.9 1013.4L469.8 1013.1L470.7 1014.7L471.3 1018.6L471.6 1017.4L472.5 1019.4L473.5 1021.8L474.4 1022.0L475.3 1024.3L476.2 1026.9L477.1 1027.1L478.1 1028.4L479.0 1029.5L479.9 1032.1L480.8 1031.8L481.8 1033.1L482.7 1036.1L483.6 1037.0L483.8 1036.8L484.5 1038.3L485.4 1037.7L486.4 1040.4L487.3 1042.9L488.2 1044.1L489.1 1044.9L490.0 1044.2L491.0 1047.7L491.9 1048.8L492.8 1049.7L493.7 1051.4L494.6 1050.6L495.6 1054.2L496.5 1054.2L497.2 1055.5L497.4 1055.3L498.3 1057.8L499.2 1056.2L500.2 1058.7L501.1 1059.5L502.0 1061.2L502.9 1061.8L503.8 1061.5L504.8 1061.9L505.7 1062.9L506.6 1063.2L507.5 1064.4L508.4 1065.7L509.4 1065.6L510.3 1066.4L511.0 1067.5L511.2 1066.9L512.1 1067.0L513.0 1068.5L514.0 1069.5L514.9 1069.1L515.8 1068.5L516.7 1070.8L517.6 1071.2L518.6 1071.6L519.5 1070.9L520.0 1073.7L520.4 1072.0L521.3 1071.6L522.2 1073.7L523.2 1072.1L524.1 1073.2L525.0 1074.4L525.9 1074.1L526.9 1075.8L527.8 1075.3L528.7 1073.5L529.6 1076.1L530.5 1074.1L531.5 1076.1L532.4 1075.5L533.3 1076.7L534.2 1079.0L534.8 1077.8L535.1 1077.4L536.1 1079.1L537.0 1079.8L537.9 1079.0L538.8 1080.6L539.7 1082.1L540.7 1081.8L541.6 1080.9L542.5 1082.4L543.4 1081.5L544.3 1081.3L545.3 1082.9L546.2 1084.3L547.1 1084.7L548.0 1083.9L548.9 1083.4L549.9 1084.3L550.8 1084.3L551.7 1085.4L552.6 1085.1L553.5 1086.0L554.5 1086.1L555.4 1087.2L556.3 1087.7L557.2 1087.0L558.1 1087.8L559.1 1087.9L560.0 1086.7L560.9 1087.6L561.8 1085.2L562.7 1087.1L563.7 1088.7L564.6 1087.6L565.5 1088.2L566.4 1089.3L567.3 1087.9L568.3 1089.7L569.2 1091.9L570.1 1088.7L571.0 1090.1L572.0 1088.5L572.9 1090.5L573.8 1091.1L574.7 1088.9L575.6 1091.3L576.6 1090.4L577.5 1089.5L578.4 1090.8L579.3 1091.1L580.2 1091.1L581.2 1090.6L582.1 1092.2L582.4 1091.0L583.0 1091.1L583.9 1089.7L584.8 1092.2L585.8 1092.8L586.7 1091.5L587.6 1092.7L588.5 1092.2L589.4 1092.5L590.4 1091.7L591.3 1093.4L592.2 1093.1L593.1 1095.3L594.0 1094.0L595.0 1092.0L595.9 1094.0L596.8 1094.1L597.7 1094.6L598.6 1093.1L599.6 1093.5L599.9 1094.8L600.5 1093.2L601.4 1093.6L602.3 1093.2L603.2 1094.5L604.2 1092.5L605.1 1093.7L606.0 1094.2L606.9 1094.6L607.8 1094.4L608.8 1093.5L609.7 1094.5L610.6 1093.4L611.5 1093.8L612.4 1093.2L613.4 1093.7L614.3 1094.5L615.2 1096.1L616.1 1094.3L617.1 1093.9L618.0 1094.5L618.9 1094.1L619.8 1095.1L620.7 1095.0L621.7 1095.5L622.6 1093.6L623.5 1094.7L624.4 1095.2L625.3 1096.0L626.3 1095.0L627.2 1093.7L628.1 1094.5L629.0 1095.6L629.9 1093.8L630.9 1093.8L631.8 1094.2L632.7 1094.4L633.6 1094.1L634.5 1094.7L635.5 1094.5L636.4 1095.8L637.3 1093.9L638.2 1095.0L639.1 1093.5L640.1 1097.0L641.0 1094.7L641.9 1094.5L642.8 1095.6L643.7 1095.0L644.7 1094.7L645.6 1094.9L646.5 1095.9L647.4 1095.6L648.3 1094.6L649.3 1094.4L650.2 1095.4L651.1 1095.5L652.0 1095.4L652.9 1094.7L653.9 1096.5L654.8 1096.8L655.7 1095.6L656.6 1096.6L657.5 1096.2L658.5 1095.7L659.4 1095.3L659.9 1096.7L660.3 1095.1L661.2 1097.3L662.2 1095.4L663.1 1097.2L664.0 1097.0L664.9 1095.3L665.8 1096.3L666.8 1096.6L667.7 1096.4L668.6 1095.6L669.5 1096.1L670.4 1096.1L671.4 1095.2L672.3 1096.7L673.2 1096.5L674.1 1096.6L675.0 1095.1L676.0 1095.3L676.9 1095.1L677.8 1096.2L678.7 1096.4L679.6 1095.5L680.6 1096.6L681.5 1095.6L682.4 1095.7L683.3 1096.9L684.2 1096.4L685.2 1096.5L686.1 1094.9L687.0 1094.2L687.9 1096.5L688.8 1096.5L689.8 1098.5L690.7 1096.3L691.6 1096.5L692.5 1097.5L693.4 1095.9L694.4 1098.0L695.3 1096.8L696.2 1096.5L697.1 1097.7L698.0 1095.9L699.0 1095.8L699.7 1097.9L699.9 1097.9L700.8 1096.2L701.7 1096.8L702.6 1097.8L703.6 1097.1L704.5 1096.9L705.4 1097.0L706.3 1096.2L707.2 1096.6L708.2 1095.4L709.1 1095.8L710.0 1096.4L710.9 1096.1L711.9 1095.9L712.8 1096.4L713.7 1098.1L714.6 1096.3L715.5 1097.0L716.5 1095.7L717.4 1097.1L718.3 1096.7L719.2 1096.9L720.1 1095.8L721.1 1097.1L722.0 1097.5L722.9 1097.0L723.8 1097.7L724.7 1097.2L725.7 1097.3L726.6 1097.1L727.5 1095.7L728.4 1097.8L729.3 1097.4L730.3 1097.6L731.2 1096.9L732.1 1098.5L733.0 1098.1L733.9 1097.6L734.9 1097.1L735.8 1097.6L736.7 1098.0L737.6 1098.4L738.5 1097.2L739.5 1096.4L740.2 1097.4L740.4 1097.5L741.3 1097.3L742.2 1098.5L743.1 1098.0L744.1 1098.0L745.0 1097.5L745.9 1097.8L746.8 1098.8L747.7 1096.8L748.7 1096.3L749.6 1098.0L750.5 1097.5L751.4 1097.6L752.3 1097.2L753.3 1099.1L754.2 1096.5L755.1 1098.3L756.0 1096.8L757.0 1097.8L757.9 1098.3L758.8 1098.0L759.7 1097.2L760.6 1098.7L761.6 1098.3L762.5 1098.4L763.4 1099.4L764.3 1096.8L765.2 1097.5L766.2 1098.0L767.1 1097.0L768.0 1098.8L768.9 1098.1L769.8 1096.5L770.8 1097.2L771.7 1099.9L772.6 1100.9L773.5 1098.9L774.4 1097.1L775.4 1098.5L776.3 1098.2L777.2 1097.5L778.1 1098.8L779.0 1097.9L780.0 1097.4L780.9 1097.7L781.8 1097.7L782.7 1098.6L783.6 1097.7L784.6 1098.5L785.5 1097.0L786.4 1095.9L787.3 1098.8L788.2 1100.0L789.2 1098.5L790.1 1097.8L791.0 1097.3L791.9 1097.3L792.8 1098.9L793.8 1098.9L794.7 1097.1L795.6 1099.2L796.5 1097.3L797.4 1098.5L798.4 1097.6L799.3 1097.7L800.2 1097.6L801.1 1097.6L802.1 1099.2L803.0 1098.1L803.9 1098.3L804.8 1098.1L805.7 1097.3L806.7 1098.6L807.6 1099.0L808.5 1099.1L809.4 1098.7L810.3 1097.8L811.3 1099.2L812.2 1097.5L813.1 1098.3L814.0 1098.8L814.9 1099.8L815.9 1098.4L816.8 1098.1L817.7 1100.2L818.6 1097.7L819.5 1097.3L820.5 1098.5L821.4 1098.4L822.3 1096.8L823.2 1097.8L824.1 1099.7L825.1 1099.0L826.0 1099.1L826.9 1099.2L827.8 1101.1L828.7 1098.5L829.7 1099.7L830.6 1099.1L831.3 1099.4L831.5 1098.5L832.4 1100.5L833.3 1102.3L834.1 1101.6L834.3 1100.9L835.2 1102.4L836.1 1100.9L837.0 1101.9L837.9 1102.5L838.9 1100.8L839.8 1102.8L840.7 1101.2L841.6 1102.5L842.5 1101.7L843.5 1103.2L844.4 1102.8L845.3 1101.2L846.2 1101.9L847.2 1102.1L848.1 1102.5L849.0 1101.7L849.9 1103.3L850.8 1103.1L851.8 1102.3L852.7 1102.8L853.6 1102.7L854.5 1102.2L855.4 1102.2L856.4 1102.3L857.3 1100.7L858.2 1101.3L859.1 1101.1L860.0 1102.2L861.0 1102.6L861.9 1103.4L862.8 1102.4L863.7 1103.9L864.6 1102.6L865.6 1101.5L866.5 1100.7L867.4 1101.3L868.3 1102.9L869.2 1101.7L870.2 1102.8L871.1 1101.4L872.0 1102.3L872.9 1101.4L873.8 1099.9L874.8 1101.4L875.7 1100.1L876.6 1102.0L877.5 1102.5L878.4 1101.0L879.4 1100.7L880.3 1102.7L881.2 1102.1L882.1 1103.4L883.0 1102.4L884.0 1101.4L884.9 1102.3L885.8 1102.7L886.7 1103.4L887.6 1101.9L888.6 1101.5L889.5 1101.7L890.4 1102.0L891.3 1103.3L892.3 1100.7L893.2 1102.3L894.1 1102.3L895.0 1101.6L895.9 1104.1L896.9 1102.3L897.8 1102.3L898.7 1101.9L899.6 1101.0L900.5 1101.8L901.5 1103.8L902.4 1102.5L903.3 1102.0L904.2 1102.1L905.1 1103.3L906.1 1103.7L907.0 1101.8L907.9 1101.9L908.8 1102.2L909.7 1103.7L910.7 1100.7L911.6 1104.7L912.5 1102.6L913.4 1100.4L914.3 1102.4L915.3 1102.0L916.2 1103.3L917.1 1101.1L918.0 1103.4L918.9 1102.0L919.9 1102.1L920.8 1103.2L921.7 1101.5L922.6 1103.5L923.5 1102.8L924.5 1102.3L925.4 1102.6L926.3 1101.9L927.2 1101.5L928.1 1102.5L929.1 1102.7L930.0 1102.7L930.9 1102.6L931.8 1101.6L932.7 1102.5L933.7 1101.9L934.6 1102.3L935.5 1103.0L936.4 1101.5L937.3 1103.2L938.3 1102.3L939.2 1101.0L940.1 1103.2L941.0 1102.3L942.0 1103.7L942.9 1102.7L943.8 1103.6L944.7 1102.6L945.6 1102.8L946.6 1102.2L947.5 1100.9L948.4 1102.0L949.3 1101.7L950.2 1102.3L951.2 1102.5L952.1 1103.0L953.0 1103.9L953.9 1102.2L954.8 1100.9L955.8 1101.9L956.7 1102.8L957.6 1100.9L958.5 1102.7L959.4 1102.8L960.4 1103.4L961.3 1103.1L962.2 1102.5L963.1 1100.6L964.0 1102.5L965.0 1103.2L965.9 1102.8L966.8 1102.5L967.7 1103.8L968.6 1102.2L969.6 1101.7L970.5 1102.0L971.4 1101.8L972.3 1103.4L973.2 1103.8L974.2 1101.2L975.1 1101.4L976.0 1103.7L976.9 1102.1L977.8 1102.3L978.8 1101.9L979.7 1102.1L980.6 1102.8L981.5 1102.2L982.4 1102.2L983.4 1102.4L984.3 1103.9L985.2 1104.9L986.1 1103.0L987.1 1103.8L988.0 1102.1L988.9 1101.7L989.8 1102.1L990.7 1102.7L991.7 1102.3L992.6 1101.3L993.5 1103.0L994.4 1101.5L995.3 1101.7L996.3 1102.1L997.2 1101.1L998.1 1103.0L999.0 1101.5L999.9 1103.2L1000.9 1103.0L1001.8 1103.3L1002.7 1102.0L1003.6 1103.2L1004.5 1102.3L1005.5 1103.3L1006.4 1101.4L1007.3 1100.8L1008.2 1102.2L1009.1 1100.9L1010.1 1101.9L1011.0 1100.5L1011.9 1102.3L1012.8 1103.7L1013.7 1101.1L1014.7 1102.5L1015.6 1103.3L1016.5 1102.9L1017.4 1103.8L1018.3 1102.5L1019.3 1103.3L1020.2 1101.1L1021.1 1101.8L1022.0 1103.8L1022.9 1103.7L1023.9 1102.9L1024.8 1104.0L1025.7 1102.5L1026.6 1102.4L1027.5 1103.0L1028.5 1102.8L1029.4 1101.9L1030.3 1101.1L1031.2 1101.1L1032.2 1102.3L1033.1 1101.6L1034.0 1103.0L1034.9 1102.0L1035.8 1103.2L1036.8 1101.7L1037.7 1103.4L1038.6 1103.2L1039.5 1102.4L1040.4 1101.9L1041.4 1103.6L1042.3 1102.8L1043.2 1102.3L1044.1 1102.2L1045.0 1103.1L1046.0 1102.3L1046.9 1102.6L1047.8 1101.2L1048.7 1101.9L1049.6 1103.5L1050.6 1104.3L1051.5 1102.3L1052.4 1101.4L1053.3 1102.2L1054.2 1101.6L1055.2 1102.8L1056.1 1103.6L1057.0 1101.7L1057.9 1102.3L1058.8 1101.8L1059.8 1103.6L1060.7 1102.2L1061.6 1102.9L1062.5 1101.7L1063.4 1102.9L1064.4 1102.9L1065.3 1102.9L1066.2 1101.3L1067.1 1102.4L1068.0 1103.1L1069.0 1103.3L1069.9 1103.3L1070.8 1101.1L1071.7 1104.0L1072.6 1103.1L1073.6 1101.8L1074.5 1101.4L1075.4 1102.5L1076.3 1101.7L1077.3 1101.7L1078.2 1101.5L1079.1 1102.4L1080.0 1101.0L1080.9 1102.2L1081.9 1101.1L1082.8 1103.3L1083.7 1101.6L1084.6 1103.5L1085.5 1103.7L1086.5 1102.0L1087.4 1103.1L1088.3 1102.0L1089.2 1103.3L1090.1 1101.0L1091.1 1102.4L1092.0 1103.4L1092.9 1102.2L1093.8 1101.6L1094.7 1103.0L1095.7 1101.9L1096.6 1100.6L1097.5 1101.6L1098.4 1102.4L1099.3 1102.9L1100.3 1101.9L1101.2 1103.7L1102.1 1105.0L1103.0 1102.9L1103.9 1103.3L1104.9 1100.9L1105.8 1102.2L1106.7 1103.2L1107.6 1103.4L1108.5 1101.9L1109.5 1103.1L1110.4 1102.9L1111.3 1102.4L1112.2 1102.3L1113.1 1102.3L1114.1 1102.3L1115.0 1101.2L1115.9 1100.9L1116.8 1103.8L1117.7 1100.1L1118.7 1102.2L1119.6 1101.3L1120.5 1103.0L1121.4 1102.1L1122.4 1102.2L1123.3 1102.3L1124.2 1101.6L1125.1 1101.8L1126.0 1103.2L1127.0 1102.5L1127.9 1101.7L1128.8 1101.8L1129.7 1102.6L1130.6 1102.6L1131.6 1102.5L1132.5 1103.3L1133.4 1103.5L1134.3 1101.0L1135.2 1102.7L1136.2 1102.3L1137.1 1103.0L1138.0 1101.2L1138.9 1100.8L1139.8 1102.6L1140.8 1101.9L1141.7 1103.0L1142.6 1100.8L1143.5 1101.6L1144.4 1103.1L1145.4 1101.3L1146.3 1102.1L1147.2 1102.0L1148.1 1102.1L1149.0 1102.9L1150.0 1102.8L1150.9 1101.8L1151.8 1102.4L1152.7 1103.2L1153.6 1100.6L1154.6 1102.6L1155.5 1102.9L1156.4 1103.0L1157.3 1101.8L1158.2 1101.5L1159.2 1102.2L1160.1 1101.6L1161.0 1103.7L1161.9 1102.7L1162.8 1102.8L1163.8 1102.4L1164.7 1102.0L1165.6 1104.1L1166.5 1099.7L1167.4 1103.1L1168.4 1102.1L1169.3 1101.7L1170.2 1101.6L1171.1 1102.2L1172.1 1104.9L1173.0 1103.3L1173.9 1101.7L1174.8 1103.2L1175.7 1103.3L1176.7 1104.4L1177.6 1101.3L1178.5 1102.0L1179.4 1103.2L1180.3 1102.5L1181.3 1102.5L1182.2 1103.4L1183.1 1102.6L1184.0 1102.2L1184.9 1101.9L1185.9 1101.3L1186.8 1102.4L1187.7 1102.8L1188.6 1102.1L1189.5 1103.0L1190.5 1103.5L1191.4 1101.4L1192.3 1102.8L1193.2 1102.3L1194.1 1101.9L1195.1 1103.4L1196.0 1101.9L1196.9 1102.0L1197.8 1102.5L1198.7 1102.1L1199.7 1103.1L1200.6 1104.3L1201.5 1102.7L1202.4 1103.2L1203.3 1101.7L1204.3 1102.2L1205.2 1102.9L1206.1 1102.4L1207.0 1101.3L1207.9 1101.4L1208.9 1102.1L1209.8 1102.1L1210.7 1102.7L1211.6 1102.5L1212.5 1101.9L1213.5 1102.5L1214.4 1102.2L1215.3 1103.4L1216.2 1103.9L1217.2 1103.9L1218.1 1102.8L1219.0 1101.3L1219.9 1101.4L1220.8 1103.3L1221.8 1103.8L1222.7 1101.8L1223.6 1102.0L1224.5 1103.6L1225.4 1101.5L1226.4 1102.3L1227.3 1101.3L1228.2 1102.1L1229.1 1101.7L1230.0 1102.2L1231.0 1103.3L1231.9 1102.6L1232.8 1103.0L1233.7 1101.7L1234.6 1103.3L1235.6 1103.8L1236.5 1101.9L1237.4 1101.5L1238.3 1101.2L1239.2 1101.5L1240.2 1103.8L1241.1 1103.0L1242.0 1102.9L1242.9 1102.5L1243.8 1104.3L1244.8 1102.5L1245.7 1102.2L1246.6 1103.3L1247.5 1102.3L1248.4 1101.4L1249.4 1102.4L1250.3 1101.5L1251.2 1101.6L1252.1 1102.1L1253.0 1102.1L1254.0 1102.8L1254.9 1101.4L1255.8 1102.9L1256.7 1103.1L1257.6 1101.8L1258.6 1103.1L1259.5 1102.1L1260.4 1101.5L1261.3 1102.4L1262.3 1102.4L1263.2 1101.7L1264.1 1101.8L1265.0 1103.8L1265.9 1103.6L1266.9 1101.3L1267.8 1102.1L1268.7 1104.3L1269.6 1103.6L1270.5 1102.4L1271.5 1103.3L1272.4 1102.0L1273.3 1102.4L1274.2 1102.0L1275.1 1103.5L1276.1 1101.9L1277.0 1100.8L1277.9 1103.1L1278.8 1101.3L1279.7 1101.6L1280.7 1101.9L1281.6 1102.5L1282.5 1103.5L1283.4 1103.2L1284.3 1101.8L1285.3 1101.6L1286.2 1101.4L1287.1 1101.6L1288.0 1101.7L1288.9 1102.8L1289.9 1103.5L1290.8 1102.3L1291.7 1102.0L1292.6 1102.4L1293.5 1103.8L1294.5 1102.9L1295.4 1103.7L1296.3 1102.3L1297.2 1103.4L1298.1 1102.6L1299.1 1102.2L1300.0 1102.3L1300.9 1101.3L1301.8 1103.4L1302.7 1104.4L1303.7 1101.6L1304.6 1101.2L1305.5 1101.2L1306.4 1102.2L1307.4 1102.0L1308.3 1102.4L1309.2 1103.6L1310.1 1103.0L1311.0 1102.0L1312.0 1103.0L1312.9 1100.8L1313.8 1103.8L1314.7 1102.8L1315.6 1101.5L1316.6 1103.0L1317.5 1103.4L1318.4 1103.6L1319.3 1103.1L1320.2 1101.2L1321.2 1102.1L1322.1 1102.0L1323.0 1102.9L1323.9 1101.7L1324.8 1102.4L1325.8 1103.3L1326.7 1102.9L1327.6 1102.3L1328.5 1101.5L1329.4 1102.5L1330.4 1102.0L1331.3 1100.7L1332.2 1103.2L1333.1 1103.5L1334.0 1101.6L1335.0 1102.1L1335.9 1102.6L1336.8 1102.2L1337.7 1102.8L1338.6 1102.0L1339.6 1102.8L1340.5 1101.8L1341.4 1103.5L1342.3 1103.2L1343.2 1102.4L1344.2 1102.9L1345.1 1101.9L1346.0 1102.5L1346.9 1102.9L1347.8 1102.3L1348.8 1102.9L1349.7 1103.8L1350.6 1103.5L1351.5 1103.2L1352.5 1102.9L1353.4 1102.4L1354.3 1101.7L1355.2 1102.0L1356.1 1100.9L1357.1 1101.4L1358.0 1102.6L1358.9 1101.1L1359.8 1101.5L1360.7 1102.9L1361.7 1102.2L1362.6 1101.5L1363.5 1102.3L1364.4 1101.6L1365.3 1102.1L1366.3 1101.9L1367.2 1102.8L1368.1 1102.2L1369.0 1102.8L1369.9 1101.9L1370.9 1104.0L1371.8 1102.2L1372.7 1101.4L1373.6 1102.0L1374.5 1102.5L1375.5 1102.0L1376.4 1103.2L1377.3 1103.2L1378.2 1102.8L1379.1 1102.6L1380.1 1101.7L1381.0 1103.3L1381.9 1101.6L1382.8 1103.9L1383.7 1103.2L1384.5 1102.5L1384.7 1101.5L1385.6 1103.0L1386.5 1104.4L1387.4 1102.1L1388.3 1102.5L1389.3 1103.4L1390.2 1103.4L1391.1 1103.1L1392.0 1102.4L1392.9 1101.9L1393.9 1103.8L1394.8 1100.5L1395.7 1102.5L1396.6 1102.8L1397.5 1101.9L1398.5 1102.4L1399.4 1100.5L1400.3 1101.6L1401.2 1102.8L1402.2 1102.9L1403.1 1103.0L1404.0 1102.8L1404.9 1101.9L1405.8 1103.1L1406.8 1101.1L1407.7 1102.6L1408.6 1102.7L1409.5 1101.7L1410.4 1104.2L1411.4 1103.3L1412.3 1102.0L1413.2 1102.5L1414.1 1102.5L1415.0 1102.2L1416.0 1103.1L1416.9 1102.7L1417.8 1103.7L1418.7 1104.2L1419.6 1101.4L1420.6 1103.4L1421.5 1103.2L1422.4 1101.3L1423.3 1101.6L1424.2 1103.0L1425.2 1103.0L1426.1 1102.6L1427.0 1103.4L1427.9 1102.1L1428.8 1102.4L1429.8 1102.4L1430.7 1101.9L1431.6 1101.9L1432.5 1101.0L1433.4 1101.2L1434.4 1104.0L1435.3 1101.8L1436.2 1103.5L1437.1 1103.8L1438.0 1101.9L1439.0 1103.2L1439.9 1102.8L1440.8 1101.6L1441.7 1103.1L1442.6 1103.3L1443.6 1102.3L1444.5 1101.5L1445.4 1102.1L1446.3 1103.9L1447.3 1103.1L1448.2 1102.7L1449.1 1100.9L1450.0 1101.8L1450.9 1101.8L1451.9 1101.5L1452.8 1102.8L1453.7 1102.2L1454.6 1102.2L1455.5 1103.4L1456.5 1102.6L1457.4 1102.1L1458.3 1103.5L1459.2 1101.9L1460.1 1101.9L1461.1 1101.7L1462.0 1103.3L1462.9 1102.5L1463.8 1101.3L1464.7 1101.9L1465.7 1103.3L1466.6 1102.4L1467.5 1101.4L1468.4 1102.7L1469.3 1102.3L1470.3 1100.4L1471.2 1102.6L1472.1 1102.7L1473.0 1103.5L1473.9 1103.2L1474.9 1101.3L1475.8 1102.7L1476.7 1103.6L1477.6 1103.4L1478.5 1102.6L1479.5 1102.0L1480.4 1103.3L1481.3 1102.0L1482.2 1103.0L1483.1 1102.3L1484.1 1102.2L1485.0 1102.1L1485.9 1103.0L1486.8 1102.8L1487.7 1102.2L1488.7 1103.8L1489.6 1102.5L1490.5 1102.2L1491.4 1101.7L1492.4 1102.7L1493.3 1102.8L1494.2 1102.5L1495.1 1103.3L1496.0 1102.8L1497.0 1102.3L1497.9 1102.4L1498.8 1103.6L1499.7 1102.9L1500.6 1104.5L1501.6 1102.0L1502.5 1103.1L1503.4 1102.5L1504.3 1103.6L1505.2 1102.7L1506.2 1102.3L1507.1 1101.8L1508.0 1103.9L1508.9 1102.0L1509.8 1102.8L1510.8 1103.4L1511.7 1102.3L1512.6 1102.9L1513.5 1102.9L1514.4 1103.3L1515.4 1102.5L1516.3 1102.7L1517.2 1102.8L1518.1 1103.5L1519.0 1103.1L1520.0 1102.4L1520.9 1101.6L1521.8 1102.7L1522.7 1101.5L1523.6 1102.7L1524.6 1103.7L1525.5 1102.2L1526.4 1103.5L1527.3 1102.4L1528.2 1101.8L1529.2 1103.0L1530.1 1102.8L1531.0 1100.6L1531.9 1102.5L1532.8 1102.5L1533.8 1102.0L1534.7 1102.8L1535.6 1102.8L1536.5 1102.4L1537.5 1104.8L1538.4 1101.5L1539.3 1103.6L1540.2 1103.7L1541.1 1102.3L1542.1 1102.7L1543.0 1103.8L1543.9 1102.5L1544.8 1103.7L1545.7 1103.3L1546.7 1104.0L1547.6 1103.4L1548.5 1102.4L1549.4 1102.6L1550.3 1102.5L1551.3 1101.9L1552.2 1102.8L1553.1 1103.3L1554.0 1103.0L1554.9 1101.3L1555.9 1102.7L1556.8 1102.5L1557.7 1102.8L1558.6 1102.5L1559.5 1102.4L1560.5 1102.8L1561.4 1102.9L1562.3 1103.4L1563.2 1103.5L1564.1 1102.4L1565.1 1102.1L1566.0 1102.0L1566.9 1102.7L1567.8 1103.5L1568.7 1102.2L1569.7 1102.2L1570.6 1104.1L1571.5 1102.1L1572.4 1102.3L1573.3 1101.3L1574.3 1103.7L1575.2 1103.9L1576.1 1102.1L1577.0 1104.3L1577.9 1103.4L1578.9 1103.7L1579.8 1103.6L1580.7 1104.4L1581.6 1103.0L1582.6 1101.9L1583.5 1102.4L1584.4 1102.4L1585.3 1103.1L1586.2 1101.5L1587.2 1102.3L1588.1 1101.9L1589.0 1104.1L1589.9 1102.5L1590.8 1103.8L1591.8 1102.5L1592.7 1102.6L1593.6 1103.7L1594.5 1102.6L1595.4 1101.8L1596.4 1102.3L1597.3 1102.3L1598.2 1103.5L1599.1 1103.4L1600.0 1103.7L1601.0 1102.7L1601.9 1101.8L1602.8 1102.4L1603.7 1102.8L1604.6 1103.7L1605.6 1102.4L1606.5 1103.0L1607.4 1104.4L1608.3 1104.3L1609.2 1103.1L1610.2 1103.6L1611.1 1101.4L1612.0 1102.8L1612.9 1103.7L1613.8 1103.2L1614.8 1101.4L1615.7 1103.6L1616.6 1102.1L1617.5 1102.4L1618.4 1101.5L1619.4 1102.3L1620.3 1103.1L1621.2 1102.3L1622.1 1102.7L1623.0 1102.0L1624.0 1102.9L1624.9 1101.1L1625.8 1102.9L1626.7 1102.4L1627.6 1103.4L1628.6 1102.7L1629.5 1102.8L1630.4 1102.7L1631.3 1102.0L1632.3 1103.3L1633.2 1103.5L1634.1 1101.9L1635.0 1103.1L1635.9 1103.4L1636.9 1101.8L1637.8 1102.1L1638.7 1105.1L1639.6 1103.1L1640.5 1102.1L1641.5 1102.1L1642.4 1103.3L1643.3 1101.5L1644.2 1103.5L1645.1 1103.0L1646.1 1102.7L1647.0 1102.8L1647.9 1102.1L1648.8 1101.9L1649.7 1102.9L1650.7 1101.6L1651.6 1103.4L1652.5 1103.0L1653.4 1101.3L1654.3 1102.7L1655.3 1101.9L1656.2 1103.2L1657.1 1103.0L1658.0 1102.9L1658.9 1102.7L1659.9 1103.1L1660.8 1102.8L1661.7 1102.2L1662.6 1101.8L1663.5 1102.7L1664.5 1102.3L1665.4 1102.0L1666.3 1103.8L1667.2 1104.2L1668.1 1101.4L1669.1 1101.7L1670.0 1102.8L1670.9 1102.5L1671.8 1103.6L1672.7 1104.0L1673.7 1102.6L1674.6 1104.1L1675.5 1102.0L1676.4 1103.4L1677.4 1102.6L1678.3 1101.2L1679.2 1101.2L1680.1 1103.1L1681.0 1101.9L1682.0 1103.7L1682.9 1103.4L1683.8 1102.5L1684.7 1101.7L1685.6 1103.3L1686.6 1102.4L1687.5 1102.8L1688.4 1103.9L1689.3 1103.0L1690.2 1101.6L1691.2 1102.9L1692.1 1102.4L1693.0 1102.1L1693.9 1103.5L1694.8 1101.8L1695.8 1101.6L1696.7 1101.5L1697.6 1101.7L1698.5 1103.3L1699.4 1103.4L1700.4 1103.6L1701.3 1103.7L1702.2 1103.6L1703.1 1102.0L1704.0 1101.6L1705.0 1103.4L1705.9 1102.2L1706.8 1104.0L1707.7 1103.2L1708.6 1103.7L1709.6 1104.3L1710.5 1102.8L1711.4 1102.8L1712.3 1103.2L1713.2 1103.3L1714.2 1103.7L1715.1 1103.0L1716.0 1103.4L1716.9 1102.7L1717.8 1103.9L1718.8 1102.7L1719.7 1102.5L1720.6 1101.8L1721.5 1102.0L1722.5 1102.7L1723.4 1103.5L1724.3 1104.5L1725.2 1102.9L1726.1 1101.7L1727.1 1101.5L1728.0 1105.1L1728.9 1103.6L1729.8 1103.2L1730.7 1103.8L1731.7 1102.8L1732.6 1102.9L1733.5 1103.4L1734.4 1103.0L1735.3 1104.3L1736.3 1103.8L1737.2 1103.7L1738.1 1102.2L1739.0 1104.3L1739.9 1103.1L1740.9 1102.3L1741.8 1103.0L1742.7 1102.2L1743.6 1103.5L1744.5 1102.6L1745.5 1102.2L1746.4 1101.0L1747.3 1102.3L1748.2 1101.7L1749.1 1102.9L1750.1 1102.9L1751.0 1101.6L1751.9 1102.4L1752.8 1101.7L1753.7 1102.3L1754.7 1101.1L1755.6 1100.9L1756.5 1103.7L1757.4 1101.3L1758.3 1102.6L1759.3 1102.5L1760.2 1103.1L1761.1 1102.3L1762.0 1103.9L1762.9 1103.6L1763.9 1103.6L1764.8 1102.7L1765.7 1102.2L1766.6 1102.3L1767.6 1102.6L1768.5 1103.5L1769.4 1104.5L1770.3 1102.6L1771.2 1102.8L1772.2 1102.7L1773.1 1101.7L1774.0 1103.1L1774.9 1103.1L1775.8 1105.0L1776.8 1102.5L1777.7 1103.0L1778.6 1103.6L1779.5 1102.6L1780.4 1103.9L1781.4 1103.4L1782.3 1101.3L1783.2 1102.3L1784.1 1102.2L1785.0 1102.3L1786.0 1102.4L1786.9 1102.8L1787.8 1101.0L1788.7 1103.0L1789.6 1102.3L1790.6 1103.2L1791.5 1103.3L1792.4 1105.1L1793.3 1104.7L1794.2 1101.7L1795.2 1101.7L1796.1 1103.4L1797.0 1103.0L1797.9 1102.5L1798.8 1103.9L1799.8 1101.5L1800.7 1103.9L1801.6 1103.6L1802.5 1105.4L1803.4 1101.7L1804.4 1103.0L1805.3 1101.6L1806.2 1103.9L1807.1 1102.7L1808.0 1103.0L1809.0 1102.8L1809.9 1101.2L1810.8 1101.1L1811.7 1101.8L1812.7 1103.4L1813.6 1102.3L1814.5 1101.9L1815.4 1102.5L1816.3 1102.5L1817.3 1102.6L1818.2 1103.8L1819.1 1102.8L1820.0 1101.6L1820.9 1103.9L1821.9 1103.0L1822.8 1102.3L1823.7 1104.2L1824.6 1103.2L1825.5 1104.5L1826.5 1103.6L1827.4 1104.3L1828.3 1103.8L1829.2 1103.5L1830.1 1103.3L1831.1 1103.2L1832.0 1105.1L1832.9 1101.7L1833.8 1103.3L1834.7 1104.0L1835.7 1103.6L1836.6 1102.8L1837.5 1103.9L1838.4 1103.4L1839.3 1103.5L1840.3 1102.6L1841.2 1103.7L1842.1 1102.7L1843.0 1102.8L1843.9 1103.2L1844.9 1102.0L1845.8 1103.1L1846.7 1104.1L1847.6 1102.8L1848.5 1103.0L1849.5 1103.1L1850.4 1102.9L1851.3 1101.1L1852.2 1102.9L1853.1 1102.7L1854.1 1103.3L1855.0 1102.0L1855.9 1103.1L1856.8 1103.8L1857.7 1104.2L1858.7 1102.6L1859.6 1102.5L1860.5 1104.5L1861.4 1103.7L1862.4 1102.5L1863.3 1102.2L1864.2 1104.2L1865.1 1103.5L1866.0 1102.4L1867.0 1103.6L1867.9 1103.5L1868.8 1103.6L1869.7 1104.2L1870.6 1103.1L1871.6 1102.9L1872.5 1104.3L1873.4 1103.0L1874.3 1102.2L1875.2 1102.9L1876.2 1102.3L1877.1 1103.6L1878.0 1101.9L1878.9 1103.8L1879.8 1101.5L1880.8 1103.5L1881.7 1103.8L1882.6 1103.9L1883.5 1103.5L1884.4 1103.6L1885.4 1103.7L1886.3 1103.4L1887.2 1102.6L1888.1 1102.4L1889.0 1103.4L1890.0 1102.1L1890.9 1104.0L1891.8 1104.0L1892.7 1104.1L1893.6 1102.6L1894.6 1104.5L1895.5 1104.4L1896.4 1102.0L1897.3 1101.7L1898.2 1102.0L1899.2 1104.4L1900.1 1103.1L1901.0 1102.4L1901.9 1103.1L1902.8 1104.6L1903.8 1103.5L1904.7 1104.6L1905.6 1104.2L1906.5 1101.3L1907.5 1102.6L1908.4 1104.4L1909.3 1104.5L1910.2 1102.8L1911.1 1103.7L1912.1 1102.7L1913.0 1103.7L1913.9 1103.4L1914.8 1103.0L1915.7 1104.1L1916.7 1104.8L1917.4 1104.2"/>
<path stroke="#000000" d="M276.0 1146.0L276.9 1146.0L277.8 1146.0L278.7 1146.0L279.6 1146.0L280.6 1146.0L281.5 1146.0L282.4 1146.0L283.3 1146.0L284.2 1146.0L285.2 1146.0L286.1 1146.0L287.0 1146.0L287.9 1146.0L288.8 1146.0L289.8 1146.0L290.7 1146.0L291.6 1146.0L292.5 1146.0L293.4 1146.0L294.4 1146.0L295.3 1146.0L296.2 1146.0L297.1 1146.0L298.0 1146.0L299.0 1146.0L299.9 1146.0L300.8 1146.0L301.7 1146.0L302.6 1146.0L303.6 1146.0L304.5 1146.0L305.4 1146.0L306.3 1146.0L307.2 1146.0L308.2 1146.0L309.1 1146.0L310.0 1146.0L310.9 1146.0L311.8 1146.0L312.8 1146.0L313.7 1146.0L314.6 1146.0L315.5 1146.0L316.4 1146.0L317.4 1146.0L318.3 1146.0L319.2 1146.0L320.1 1146.0L321.0 1146.0L322.0 1146.0L322.9 1146.0L323.8 1146.0L324.7 1146.0L325.7 1146.0L326.6 1146.0L327.5 1146.0L328.4 1146.0L329.3 1146.0L330.3 1146.0L331.2 1146.0L332.1 1146.0L333.0 1146.0L333.9 1146.0L334.9 1146.0L335.8 1146.0L336.7 1146.0L337.6 1146.0L338.5 1146.0L339.5 1146.0L340.4 1146.0L341.3 1146.0L342.2 1146.0L343.1 1146.0L344.1 1146.0L345.0 1146.0L345.9 1146.0L346.8 1146.0L347.7 1146.0L348.7 1146.0L349.6 1146.0L350.5 1146.0L351.4 1146.0L352.3 1146.0L353.3 1146.0L354.2 1146.0L355.1 1146.0L356.0 1146.0L356.9 1146.0L357.9 1146.0L358.8 1146.0L359.7 1146.0L360.6 1146.0L361.5 1146.0L362.5 1146.0L363.4 1146.0L364.3 1146.0L365.2 1146.0L366.1 1146.0L367.1 1146.0L368.0 1146.0L368.9 1146.0L369.8 1146.0L370.8 1146.0L371.7 1146.0L372.6 1146.0L373.5 1146.0L374.4 1146.0L375.4 1146.0L376.3 1146.0L377.2 1146.0L378.1 1146.0L379.0 1146.0L380.0 1146.0L380.9 1146.0L381.8 1146.0L382.7 1146.0L383.6 1146.0L384.6 1146.0L385.5 1146.0L386.4 1146.0L387.3 1146.0L388.2 1146.0L389.2 1146.0L390.1 630.8L391.0 30.0L391.2 30.0L391.9 30.0L392.8 30.0L393.8 30.0L394.7 30.0L395.6 30.0L396.5 30.0L397.4 115.6L397.8 142.3L398.4 166.8L399.3 198.3L400.2 225.3L400.6 236.8L401.1 254.9L402.0 285.1L403.0 313.8L403.9 339.1L404.8 360.2L405.7 378.6L406.6 396.9L407.4 413.1L407.6 417.6L408.5 442.1L409.4 469.0L410.3 496.2L411.2 521.8L412.2 543.8L413.1 562.7L414.0 580.2L414.9 596.7L415.9 612.2L416.8 627.0L417.7 641.3L418.6 655.2L419.5 669.0L420.3 680.1L420.5 682.8L421.4 696.2L422.3 709.1L423.2 721.7L424.1 734.0L425.1 746.3L426.0 758.7L426.2 761.1L426.9 771.4L427.8 784.7L428.7 798.1L429.7 811.0L430.6 822.9L431.5 833.3L431.7 835.2L432.4 842.1L433.3 850.2L434.3 857.6L435.2 864.5L436.1 871.1L437.0 877.4L437.9 883.6L438.9 889.8L439.8 896.3L440.7 902.9L441.6 909.6L442.5 916.4L443.5 923.2L444.4 929.8L445.3 936.4L446.2 942.7L447.1 948.8L448.1 954.6L449.0 959.9L449.9 964.8L450.5 967.4L450.8 969.1L451.7 973.2L452.7 977.0L453.6 980.5L454.5 983.9L455.4 987.2L456.3 990.3L457.3 993.4L458.2 1000.4L459.1 993.1L460.0 1005.2L460.8 1005.4L461.0 1003.4L461.9 1010.0L462.8 1011.6L463.7 1015.4L464.6 1016.9L465.6 1022.7L466.5 1023.3L467.4 1025.2L468.3 1028.2L469.2 1029.6L470.2 1033.1L471.1 1032.6L472.0 1037.9L472.2 1037.9L472.9 1041.1L473.8 1042.9L474.8 1047.0L475.7 1044.4L476.6 1050.7L477.5 1051.7L478.4 1050.9L479.4 1052.7L480.3 1056.6L480.6 1061.2L481.2 1056.6L482.1 1058.9L483.0 1064.7L484.0 1061.5L484.9 1066.7L485.8 1069.5L486.7 1068.5L487.6 1070.8L488.6 1071.6L489.1 1076.4L489.5 1069.7L490.4 1076.2L491.3 1079.4L492.2 1076.2L493.2 1079.4L493.5 1078.6L494.1 1080.7L495.0 1081.5L495.9 1082.3L496.8 1085.6L497.8 1084.1L498.7 1087.6L499.1 1088.8L499.6 1087.6L500.5 1088.1L501.4 1090.5L502.4 1092.7L503.3 1091.1L504.2 1096.4L505.1 1096.1L506.1 1095.1L507.0 1098.4L507.9 1096.7L508.6 1097.4L508.8 1095.9L509.7 1099.7L510.7 1099.9L511.6 1098.8L512.5 1104.2L513.4 1095.3L514.3 1102.3L515.3 1102.9L516.2 1100.7L517.1 1102.7L518.0 1106.0L518.9 1102.5L519.9 1102.5L520.8 1105.1L521.7 1105.2L522.6 1104.3L523.0 1106.7L523.5 1104.7L524.5 1105.4L525.4 1107.2L526.3 1108.7L527.2 1107.1L528.1 1108.4L529.1 1105.7L530.0 1107.3L530.9 1106.5L531.8 1107.8L532.7 1107.9L533.7 1109.8L534.6 1107.7L535.5 1106.2L536.4 1109.7L537.3 1110.4L538.3 1110.0L539.2 1110.7L540.1 1111.3L541.0 1110.2L541.6 1111.0L541.9 1108.4L542.9 1110.9L543.8 1110.7L544.7 1110.0L545.6 1112.1L546.5 1109.7L547.5 1113.2L548.4 1113.7L549.3 1113.3L550.2 1113.2L551.1 1115.4L552.1 1113.6L553.0 1116.3L553.9 1112.0L554.8 1114.5L555.8 1115.6L556.7 1116.2L557.6 1115.7L558.5 1115.7L559.4 1117.2L560.4 1117.3L561.3 1116.5L562.2 1117.2L563.1 1115.3L564.0 1115.3L565.0 1117.2L565.9 1116.7L566.8 1119.6L567.7 1116.9L568.6 1118.1L569.6 1117.6L570.5 1116.2L571.4 1122.0L572.3 1118.5L573.2 1120.7L574.2 1118.4L575.1 1121.3L576.0 1120.3L576.9 1119.5L577.8 1119.0L578.8 1119.9L579.7 1121.3L580.6 1121.1L581.5 1119.2L582.4 1120.5L583.4 1122.9L584.3 1119.5L585.2 1120.2L586.1 1119.6L587.0 1121.4L588.0 1119.9L588.9 1122.6L589.8 1120.4L590.7 1121.9L591.6 1120.4L592.6 1120.0L593.5 1122.5L594.4 1121.6L595.3 1121.5L596.2 1120.0L597.2 1120.7L598.1 1123.5L599.0 1121.2L599.9 1120.9L600.9 1119.0L601.8 1124.3L602.7 1122.8L603.6 1120.3L604.5 1124.1L605.5 1123.9L606.4 1121.6L607.3 1121.0L608.2 1123.3L609.1 1121.7L610.1 1122.3L611.0 1120.5L611.9 1122.6L612.8 1121.3L613.7 1123.9L614.7 1123.0L615.6 1122.9L616.5 1121.2L617.4 1122.0L618.3 1123.9L619.3 1122.0L620.2 1121.9L621.1 1123.1L622.0 1123.3L622.9 1123.3L623.1 1125.3L623.9 1122.8L624.8 1122.7L625.7 1124.3L626.6 1122.1L627.5 1125.0L628.5 1123.9L629.4 1123.8L630.3 1120.5L631.2 1125.4L632.1 1122.5L633.1 1122.0L634.0 1122.8L634.9 1121.7L635.8 1124.7L636.7 1126.5L637.7 1122.4L638.6 1125.1L639.5 1123.9L640.4 1125.1L641.3 1122.1L642.3 1122.3L643.2 1124.5L644.1 1122.3L645.0 1123.4L646.0 1123.8L646.9 1123.5L647.8 1123.9L648.7 1122.8L649.6 1123.2L650.6 1124.1L651.5 1122.3L652.4 1124.5L653.3 1123.3L654.2 1123.2L655.2 1121.7L656.1 1124.4L657.0 1121.4L657.9 1123.5L658.8 1124.1L659.8 1124.7L659.9 1123.0L660.7 1123.7L661.6 1125.3L662.5 1125.4L663.4 1124.6L664.4 1124.8L665.3 1122.4L666.2 1122.0L667.1 1122.7L668.0 1123.4L669.0 1124.5L669.9 1123.8L670.8 1122.7L671.7 1121.0L672.6 1122.7L673.6 1124.3L674.5 1123.9L675.4 1124.6L676.3 1125.0L677.2 1124.2L678.2 1123.7L679.1 1121.5L680.0 1123.9L680.9 1122.1L681.8 1121.6L682.8 1123.9L683.7 1121.8L684.6 1123.0L685.5 1124.6L686.4 1123.7L687.4 1124.0L688.3 1124.3L689.2 1124.3L690.1 1123.8L691.1 1123.5L692.0 1125.2L692.9 1124.1L693.8 1126.1L694.7 1123.7L695.7 1123.2L696.6 1123.9L697.5 1123.7L698.4 1123.3L699.3 1125.0L699.7 1124.4L700.3 1123.4L701.2 1122.8L702.1 1123.6L703.0 1120.7L703.9 1124.3L704.9 1122.8L705.8 1122.5L706.7 1124.4L707.6 1125.3L708.5 1125.8L709.5 1124.0L710.4 1122.7L711.3 1123.9L712.2 1124.0L713.1 1124.8L714.1 1123.5L715.0 1127.2L715.9 1124.0L716.8 1124.3L717.7 1126.2L718.7 1121.4L719.6 1126.2L720.5 1125.8L721.4 1126.0L722.3 1122.9L723.3 1125.6L724.2 1123.5L725.1 1123.6L726.0 1124.1L726.9 1126.2L727.9 1125.3L728.8 1122.2L729.7 1126.2L730.6 1125.6L731.5 1124.7L732.5 1123.4L733.4 1124.2L734.3 1123.5L735.2 1126.0L736.2 1123.3L737.1 1123.8L738.0 1126.7L738.9 1122.5L739.8 1121.5L740.2 1125.6L740.8 1124.5L741.7 1122.7L742.6 1126.6L743.5 1127.3L744.4 1126.4L745.4 1125.4L746.3 1125.4L747.2 1123.8L748.1 1124.3L749.0 1126.3L750.0 1123.9L750.9 1122.2L751.8 1123.1L752.7 1123.4L753.6 1124.7L754.6 1123.4L755.5 1126.0L756.4 1123.7L757.3 1124.8L758.2 1123.2L759.2 1124.1L760.1 1126.2L761.0 1124.6L761.9 1123.1L762.8 1126.2L763.8 1125.5L764.7 1125.8L765.6 1126.7L766.5 1123.5L767.4 1123.0L768.4 1123.7L769.3 1124.4L770.2 1124.8L771.1 1124.4L772.0 1125.7L773.0 1123.6L773.9 1123.4L774.8 1123.5L775.7 1125.5L776.6 1124.7L777.6 1125.0L778.5 1122.4L779.4 1124.6L780.3 1127.3L781.2 1124.3L782.2 1122.3L783.1 1123.9L784.0 1123.6L784.9 1124.8L785.9 1127.5L786.8 1127.2L787.7 1126.5L788.6 1125.0L789.5 1124.4L790.5 1123.9L791.4 1125.3L792.3 1123.6L793.2 1125.2L794.1 1125.8L795.1 1123.7L796.0 1126.1L796.9 1128.5L797.8 1126.3L798.7 1124.8L799.7 1129.0L800.6 1125.4L801.5 1125.4L802.4 1126.9L803.3 1126.9L804.3 1125.6L805.2 1125.7L806.1 1123.3L807.0 1124.5L807.9 1127.1L808.9 1126.2L809.8 1124.1L810.7 1122.5L811.6 1124.6L812.5 1124.7L813.5 1122.6L814.4 1125.2L815.3 1125.5L816.2 1127.0L817.1 1125.9L818.1 1122.3L819.0 1127.1L819.9 1125.2L820.8 1127.1L821.7 1125.1L822.7 1124.1L823.6 1125.6L824.5 1124.4L825.4 1125.4L826.2 1125.4L826.3 1125.5L827.3 1127.6L828.2 1131.5L829.1 1135.9L829.5 1137.5L830.0 1140.3L831.0 1144.8L831.3 1145.4L831.9 1145.4L832.8 1145.4L833.2 1145.4L833.7 1144.1L834.6 1138.2L835.6 1131.2L836.5 1124.9L837.4 1117.8L837.9 1112.9L838.3 1109.3L839.2 1098.7L840.2 1086.6L840.7 1078.9L841.1 1073.7L842.0 1059.5L842.9 1041.4L843.7 1033.5L843.8 1032.3L844.8 1016.0L845.7 997.4L846.6 976.7L847.5 955.7L848.4 944.9L849.4 933.8L850.3 920.5L851.2 902.2L851.8 892.3L852.1 887.1L853.0 877.2L853.8 859.8L854.0 848.3L854.9 849.0L855.8 818.8L856.5 814.0L856.7 794.7L857.6 773.2L858.4 763.4L858.6 744.1L859.5 715.9L860.4 715.4L861.3 692.2L862.2 681.5L863.2 680.2L864.1 645.3L865.0 643.3L865.9 643.3L866.8 612.3L867.8 603.4L868.5 599.7L868.7 583.5L869.6 584.8L870.5 555.0L871.1 563.8L871.4 544.9L872.4 553.3L873.3 519.3L874.2 525.2L874.9 506.4L875.1 528.7L876.1 515.9L877.0 492.0L877.9 522.8L878.3 501.1L878.8 473.3L879.7 473.0L880.7 460.9L881.6 469.8L882.5 453.8L883.0 465.3L883.4 470.3L884.3 467.7L885.3 447.8L886.2 441.8L887.1 437.7L887.3 472.0L888.0 450.2L888.9 428.9L889.9 415.7L890.8 423.3L891.7 424.2L892.6 439.3L893.5 383.1L894.5 419.0L895.4 381.4L895.9 381.0L896.3 395.8L897.2 403.1L898.1 390.7L899.1 403.3L900.0 381.8L900.9 381.4L901.8 371.0L902.7 362.0L903.7 348.5L904.6 371.7L905.5 350.2L906.4 370.0L907.3 368.2L908.3 361.7L908.6 365.2L909.2 338.9L910.1 336.9L911.0 330.0L911.9 343.9L912.9 337.7L913.8 346.1L914.7 351.1L915.6 328.7L916.5 328.8L917.5 344.1L918.4 320.7L919.3 348.0L920.2 326.3L921.0 330.4L921.2 328.7L922.1 333.8L923.0 306.2L923.9 309.2L924.8 299.6L925.8 311.1L926.7 327.3L927.6 314.0L928.5 322.6L929.4 300.2L930.4 289.1L931.3 298.6L932.2 308.6L933.1 304.1L934.0 295.2L935.0 314.4L935.9 292.7L936.8 290.4L937.2 299.1L937.7 296.5L938.6 287.5L939.6 298.3L940.5 296.7L941.4 274.9L942.3 280.3L943.2 260.3L944.2 292.3L945.1 300.7L946.0 264.9L946.9 263.1L947.8 282.9L948.8 290.6L949.7 271.2L950.6 291.2L951.3 272.3L951.5 295.2L952.4 269.3L953.4 291.5L954.3 266.4L955.2 242.8L956.1 263.9L957.0 249.4L958.0 265.8L958.9 267.5L959.8 273.8L960.7 240.4L961.6 252.9L962.6 230.4L963.5 264.4L964.4 251.1L965.3 246.1L966.3 228.1L967.2 221.8L968.1 251.8L969.0 256.8L969.6 263.8L969.9 224.7L970.9 241.6L971.8 247.7L972.7 239.2L973.6 269.9L974.5 258.5L975.5 224.1L976.4 230.0L977.3 232.2L978.2 245.9L979.1 225.1L980.1 209.2L981.0 246.3L981.9 229.9L982.8 234.7L983.7 223.9L984.7 227.5L985.6 228.8L986.5 237.3L987.4 225.6L988.3 232.4L989.3 225.7L990.2 223.9L991.1 214.1L991.8 229.0L992.0 225.6L992.9 207.3L993.9 222.7L994.8 222.5L995.7 207.6L996.6 214.2L997.5 215.7L998.5 213.4L999.4 231.0L1000.3 208.8L1001.2 197.1L1002.1 205.8L1003.1 231.9L1004.0 208.0L1004.9 222.3L1005.8 213.0L1006.7 207.8L1007.7 223.7L1008.6 191.2L1009.5 208.2L1010.4 196.6L1011.3 198.0L1012.3 188.4L1013.2 189.7L1014.1 222.6L1015.0 202.9L1016.0 229.7L1016.9 207.8L1017.8 192.5L1018.7 189.4L1019.6 184.1L1020.6 204.4L1021.5 195.0L1022.4 197.3L1023.3 181.9L1024.2 177.3L1025.2 224.9L1026.1 148.5L1027.0 214.5L1027.9 199.6L1028.8 186.9L1029.8 184.4L1030.7 186.5L1031.6 201.0L1032.5 173.7L1033.4 191.1L1034.4 171.8L1035.3 173.1L1036.2 206.2L1037.1 202.0L1038.0 201.8L1039.0 185.5L1039.9 187.5L1040.8 184.3L1041.7 197.5L1042.6 181.4L1043.6 168.6L1044.5 202.7L1045.4 187.9L1046.3 181.9L1047.2 186.2L1048.2 186.6L1049.1 161.4L1050.0 167.1L1050.9 172.2L1051.8 192.1L1052.8 153.8L1053.7 177.1L1054.6 188.5L1055.5 185.1L1056.4 186.6L1057.4 153.3L1058.3 177.1L1059.2 178.5L1060.1 206.0L1061.1 169.2L1062.0 191.5L1062.9 192.0L1063.8 169.7L1064.7 187.9L1065.7 166.1L1066.6 162.2L1067.5 198.5L1068.4 177.3L1069.3 195.1L1070.3 175.7L1071.2 163.1L1072.1 191.4L1073.0 151.2L1073.9 177.5L1074.9 188.2L1075.8 174.5L1076.7 162.7L1077.6 189.7L1078.5 172.0L1079.5 189.0L1080.4 156.3L1081.3 169.2L1082.2 176.2L1083.1 157.5L1084.1 186.5L1085.0 174.9L1085.9 146.4L1086.8 170.9L1087.7 152.0L1088.7 166.3L1089.6 177.3L1090.5 171.3L1091.4 167.0L1092.3 172.8L1093.3 177.8L1094.2 176.9L1095.1 185.5L1096.0 165.1L1096.9 161.3L1097.9 156.6L1098.8 188.5L1099.7 155.3L1100.6 165.4L1101.5 182.9L1102.5 163.4L1103.4 154.1L1104.3 157.6L1105.2 154.8L1106.2 151.7L1107.1 152.1L1108.0 185.7L1108.9 189.2L1109.8 172.3L1110.8 158.0L1111.7 168.2L1112.6 153.4L1113.5 151.8L1114.4 161.0L1115.4 137.7L1116.3 173.5L1117.2 149.3L1118.1 166.8L1119.0 170.5L1120.0 153.0L1120.9 168.0L1121.8 149.3L1122.4 174.7L1122.7 159.5L1123.6 170.4L1124.6 162.6L1125.5 164.2L1126.4 173.5L1127.3 150.9L1128.2 174.7L1129.2 171.2L1130.1 147.5L1131.0 146.3L1131.9 150.0L1132.8 154.0L1133.8 129.4L1134.7 173.2L1135.6 167.2L1136.5 170.2L1137.4 146.2L1138.4 153.7L1139.3 143.2L1140.2 144.8L1141.1 159.8L1142.0 167.1L1143.0 169.2L1143.9 128.7L1144.8 144.2L1145.7 148.8L1146.6 160.4L1147.6 158.5L1148.5 160.2L1149.4 159.8L1150.3 185.9L1151.3 156.2L1152.2 160.1L1153.1 151.5L1154.0 152.4L1154.9 144.2L1155.9 155.0L1156.8 144.7L1157.7 186.9L1158.6 168.3L1159.5 132.6L1160.5 169.6L1161.4 157.6L1162.3 145.1L1163.2 165.0L1164.1 144.7L1165.1 171.7L1166.0 177.7L1166.9 170.2L1167.8 174.2L1168.7 153.5L1169.7 157.2L1170.6 149.0L1171.5 166.1L1172.4 120.9L1173.3 154.0L1174.3 153.3L1175.2 146.9L1176.1 155.6L1177.0 160.4L1177.9 151.3L1178.9 140.8L1179.8 143.9L1180.7 140.3L1181.6 159.2L1182.5 161.8L1183.5 126.7L1184.4 154.9L1185.3 145.8L1186.2 142.5L1187.1 133.8L1188.1 168.7L1189.0 157.6L1189.9 157.0L1190.8 155.3L1191.7 181.8L1192.7 152.6L1193.6 187.8L1194.5 147.5L1195.4 144.5L1195.8 143.7L1196.4 166.4L1197.3 139.1L1198.2 162.0L1199.1 166.6L1200.0 163.4L1201.0 161.7L1201.9 148.8L1202.8 140.6L1203.7 177.4L1204.6 157.7L1205.6 139.5L1206.5 148.2L1207.4 144.4L1208.3 169.6L1209.2 138.7L1210.2 170.3L1211.1 148.1L1212.0 133.4L1212.9 126.8L1213.8 144.0L1214.8 139.3L1215.7 158.0L1216.6 156.4L1217.5 135.6L1218.4 150.3L1219.4 151.9L1220.3 168.0L1221.2 148.3L1222.1 142.0L1223.0 160.2L1224.0 156.5L1224.9 130.2L1225.8 147.8L1226.7 153.7L1227.6 164.3L1228.6 157.8L1229.5 153.1L1230.4 132.7L1231.3 157.6L1232.2 127.3L1233.2 161.6L1234.1 154.3L1235.0 139.2L1235.9 152.8L1236.8 160.2L1237.8 151.4L1238.7 144.1L1239.6 171.3L1240.5 152.8L1241.4 151.1L1242.4 154.7L1243.3 140.4L1244.2 156.8L1245.1 154.2L1246.1 149.1L1247.0 140.4L1247.9 152.3L1248.8 130.4L1249.7 161.0L1250.7 133.3L1251.6 160.3L1252.5 151.5L1253.4 144.9L1254.3 123.6L1255.3 138.2L1256.2 154.6L1257.1 133.1L1258.0 152.1L1258.9 159.4L1259.9 143.8L1260.8 148.2L1261.7 137.4L1262.6 156.3L1263.5 144.6L1264.5 141.4L1265.4 145.9L1266.3 149.7L1267.2 158.2L1268.1 138.0L1269.1 147.6L1269.2 143.1L1270.0 153.8L1270.9 149.2L1271.8 162.4L1272.7 148.3L1273.7 139.7L1274.6 148.2L1275.5 138.6L1276.4 145.5L1277.3 132.2L1278.3 151.8L1279.2 170.1L1280.1 144.0L1281.0 151.5L1281.9 161.7L1282.9 141.2L1283.8 146.1L1284.7 143.8L1285.6 153.6L1286.5 147.0L1287.5 146.3L1288.4 127.1L1289.3 158.1L1290.2 149.6L1291.2 144.9L1292.1 171.3L1293.0 169.7L1293.9 122.3L1294.8 171.8L1295.8 142.3L1296.7 160.3L1297.6 159.2L1298.5 174.6L1299.4 161.0L1300.4 139.8L1301.3 167.1L1302.2 142.2L1303.1 145.7L1304.0 124.3L1305.0 155.7L1305.9 133.8L1306.8 138.5L1307.7 153.4L1308.6 170.7L1309.6 130.8L1310.5 167.0L1311.4 155.8L1312.3 138.7L1313.2 135.8L1314.2 160.5L1315.1 150.3L1316.0 153.2L1316.9 135.0L1317.8 118.4L1318.8 173.0L1319.7 138.4L1320.6 186.0L1321.5 149.8L1322.4 164.0L1323.4 125.0L1324.3 148.0L1325.2 159.4L1326.1 156.4L1327.0 157.4L1328.0 147.8L1328.9 152.2L1329.8 141.9L1330.7 130.8L1331.6 141.4L1332.6 165.7L1333.5 170.7L1334.4 159.8L1335.3 137.1L1336.3 154.6L1337.2 158.8L1338.1 148.6L1339.0 168.2L1339.9 164.8L1340.9 144.0L1341.8 154.3L1342.7 156.2L1343.6 146.5L1344.5 157.9L1345.5 159.2L1346.4 156.4L1347.3 143.0L1348.2 149.9L1349.1 165.7L1350.1 154.5L1351.0 142.5L1351.9 127.1L1352.8 165.1L1353.7 146.5L1354.7 154.0L1355.6 140.4L1356.5 145.2L1357.4 132.3L1358.3 144.3L1359.3 157.8L1360.2 157.7L1361.1 145.9L1362.0 146.0L1362.9 120.8L1363.9 130.0L1364.8 165.9L1365.7 146.7L1366.6 167.9L1367.5 172.1L1368.5 141.9L1369.4 144.3L1370.3 164.4L1371.2 130.6L1372.1 163.7L1373.1 166.1L1374.0 143.2L1374.9 148.7L1375.8 153.5L1376.7 152.4L1377.7 148.8L1378.6 153.4L1379.5 153.8L1380.4 175.6L1381.4 168.6L1382.3 144.1L1383.2 160.7L1384.1 145.0L1385.0 136.3L1386.0 156.4L1386.9 148.4L1387.8 125.8L1388.7 143.3L1389.6 128.9L1390.6 132.8L1391.5 142.7L1392.4 153.6L1393.3 162.8L1394.2 166.3L1395.2 146.2L1396.1 146.5L1397.0 154.6L1397.9 141.8L1398.8 160.1L1399.8 138.5L1400.7 152.1L1401.6 153.1L1402.5 152.7L1403.4 153.9L1404.4 121.4L1405.3 173.1L1406.2 150.6L1407.1 137.2L1408.0 143.9L1409.0 156.8L1409.9 131.1L1410.8 166.5L1411.7 169.6L1412.6 146.0L1413.6 171.5L1414.5 183.2L1415.4 142.2L1416.1 143.7L1416.3 144.1L1417.2 159.5L1418.2 151.1L1419.1 165.6L1420.0 131.7L1420.9 143.6L1421.8 144.3L1422.8 178.3L1423.7 143.6L1424.6 135.0L1425.5 138.6L1426.5 144.0L1427.4 154.0L1428.3 158.4L1429.2 146.6L1430.1 149.4L1431.1 151.4L1432.0 158.3L1432.9 133.3L1433.8 169.3L1434.7 154.9L1435.7 162.0L1436.6 141.8L1437.5 136.9L1438.4 139.3L1439.3 145.5L1440.3 172.8L1441.2 129.0L1442.1 148.8L1443.0 156.7L1443.9 155.2L1444.9 159.8L1445.8 150.3L1446.7 151.8L1447.6 160.3L1448.5 188.2L1449.5 156.4L1450.4 150.0L1451.3 149.4L1452.2 158.1L1453.1 150.5L1454.1 143.3L1455.0 162.3L1455.9 137.9L1456.8 181.1L1457.7 172.4L1458.7 168.0L1459.6 187.5L1460.5 169.3L1461.4 141.0L1462.3 141.2L1463.3 155.7L1464.2 135.2L1465.1 154.0L1466.0 163.3L1466.9 154.0L1467.9 158.8L1468.8 147.8L1469.7 176.1L1470.6 144.6L1471.5 163.0L1472.5 146.4L1473.4 176.6L1474.3 162.5L1475.2 156.3L1476.2 145.9L1476.5 172.6L1477.1 136.2L1478.0 151.2L1478.9 163.9L1479.8 141.9L1480.8 155.9L1481.7 142.6L1482.6 127.9L1483.5 147.4L1484.4 163.7L1485.4 162.4L1486.3 149.6L1487.2 153.3L1488.1 167.3L1489.0 165.2L1490.0 148.3L1490.9 127.1L1491.8 189.7L1492.7 147.3L1493.6 159.0L1494.6 146.5L1495.5 145.3L1496.4 155.5L1497.3 168.8L1498.2 173.5L1499.2 179.5L1500.1 140.3L1501.0 158.3L1501.9 162.4L1502.8 158.9L1503.8 172.2L1504.7 151.4L1505.6 138.5L1506.5 140.7L1507.4 174.7L1508.4 137.7L1509.3 164.4L1510.2 178.7L1511.1 170.0L1512.0 166.6L1513.0 154.4L1513.9 167.2L1514.8 173.1L1515.7 157.4L1516.6 129.7L1517.6 162.7L1518.5 147.9L1519.4 152.6L1520.3 120.1L1521.3 177.4L1522.2 139.6L1523.1 169.5L1524.0 160.7L1524.9 154.4L1525.9 113.0L1526.8 162.6L1527.7 176.8L1528.6 136.6L1529.5 163.4L1530.5 155.9L1531.4 153.1L1532.3 151.5L1533.2 154.8L1533.4 149.3L1534.1 147.8L1535.1 141.9L1536.0 158.0L1536.9 162.0L1537.8 165.9L1538.7 145.0L1539.7 153.1L1540.6 145.5L1541.5 145.6L1542.4 131.1L1543.3 149.7L1544.3 142.8L1545.2 167.4L1546.1 165.9L1547.0 156.2L1547.9 167.5L1548.9 143.5L1549.8 168.9L1550.7 151.3L1551.6 183.1L1552.5 166.0L1553.5 156.3L1554.4 155.3L1555.3 174.5L1556.2 150.6L1557.1 139.6L1558.1 143.7L1559.0 160.2L1559.9 159.2L1560.8 166.8L1561.7 143.9L1562.7 133.6L1563.6 158.4L1564.5 173.1L1565.4 149.2L1566.4 142.8L1567.3 185.9L1568.2 149.9L1569.1 124.3L1570.0 141.2L1571.0 144.6L1571.9 146.5L1572.8 138.1L1573.7 163.4L1574.6 162.1L1575.6 146.3L1576.5 160.1L1577.4 148.2L1578.3 175.5L1579.2 141.8L1580.2 140.7L1581.1 150.8L1582.0 149.3L1582.9 130.9L1583.8 164.9L1584.8 162.8L1585.7 165.1L1586.6 156.6L1587.5 164.0L1588.4 150.8L1589.4 159.4L1590.3 169.5L1591.2 170.7L1592.1 135.9L1593.0 152.1L1594.0 154.0L1594.9 150.8L1595.8 152.2L1596.7 141.6L1597.6 144.1L1598.6 158.6L1599.5 161.5L1600.4 164.8L1601.3 166.9L1602.2 133.5L1603.2 162.7L1604.1 176.5L1605.0 161.7L1605.9 161.0L1606.8 147.0L1607.8 162.3L1608.7 144.4L1609.6 146.2L1610.5 135.2L1611.5 123.8L1612.4 115.2L1613.3 134.1L1614.2 165.7L1615.1 156.2L1616.1 148.0L1617.0 125.1L1617.9 142.6L1618.8 136.0L1619.7 153.3L1620.7 143.7L1621.6 142.1L1622.5 156.9L1623.4 141.3L1624.3 137.6L1625.3 153.1L1626.2 138.3L1627.1 130.4L1628.0 150.3L1628.9 151.1L1629.9 155.0L1630.8 158.9L1631.7 149.1L1632.6 156.3L1633.5 155.0L1634.5 160.9L1635.4 170.5L1636.3 162.9L1637.2 147.0L1638.1 166.0L1639.1 159.3L1640.0 130.4L1640.9 136.9L1641.8 159.8L1642.7 143.5L1643.7 159.3L1644.6 130.6L1645.5 158.5L1646.4 150.1L1647.3 133.7L1648.3 161.5L1649.2 134.7L1650.1 161.4L1651.0 148.1L1651.9 154.8L1652.9 152.2L1653.8 149.1L1654.7 152.0L1655.6 163.9L1656.6 140.2L1657.5 142.0L1658.4 134.9L1659.3 133.7L1660.2 168.0L1661.2 134.9L1662.1 134.8L1663.0 157.8L1663.9 138.0L1664.8 132.6L1665.8 157.9L1666.7 168.5L1667.6 155.6L1668.5 115.9L1669.4 148.1L1670.4 166.4L1671.3 154.3L1672.2 163.6L1673.1 156.1L1674.0 149.9L1675.0 183.4L1675.9 146.6L1676.8 133.3L1677.7 153.6L1678.6 155.9L1679.6 137.3L1680.3 167.1L1680.5 166.8L1681.4 168.6L1682.3 153.1L1683.2 146.1L1684.2 152.3L1685.1 144.2L1686.0 140.6L1686.9 144.9L1687.8 161.3L1688.8 154.5L1689.7 135.4L1690.6 164.3L1691.5 154.3L1692.4 156.4L1693.4 153.4L1694.3 164.7L1695.2 168.1L1696.1 118.9L1697.0 139.2L1698.0 160.1L1698.9 151.9L1699.8 142.6L1700.7 155.4L1701.6 143.3L1702.6 158.9L1703.5 155.6L1704.4 152.2L1705.3 156.9L1706.3 182.0L1707.2 150.8L1708.1 147.8L1709.0 145.1L1709.9 163.6L1710.9 146.8L1711.8 148.4L1712.7 173.4L1713.6 178.8L1714.5 145.1L1715.5 163.1L1716.4 138.5L1717.3 124.1L1718.2 158.5L1719.1 159.8L1720.1 151.3L1721.0 142.6L1721.9 165.4L1722.8 135.4L1723.7 138.6L1724.7 142.8L1725.6 157.9L1726.5 139.6L1727.4 140.3L1728.3 166.2L1729.3 124.8L1730.2 154.9L1731.1 146.5L1732.0 157.7L1732.9 146.3L1733.9 136.5L1734.8 161.3L1735.7 172.0L1736.6 156.8L1737.5 167.6L1738.5 160.7L1739.4 152.7L1740.3 151.9L1741.2 134.9L1742.1 163.9L1743.1 146.7L1744.0 157.5L1744.9 133.9L1745.8 119.3L1746.7 147.3L1747.7 130.0L1748.6 157.8L1749.5 171.3L1750.4 167.1L1751.4 171.0L1752.3 163.1L1753.2 154.1L1753.7 136.6L1754.1 142.3L1755.0 145.3L1756.0 156.5L1756.9 160.2L1757.8 150.7L1758.7 149.4L1759.6 147.9L1760.6 146.5L1761.5 152.6L1762.4 175.4L1763.3 165.2L1764.2 161.6L1765.2 129.8L1766.1 156.6L1767.0 142.7L1767.9 132.8L1768.8 147.1L1769.8 156.2L1770.7 155.0L1771.6 164.2L1772.5 147.5L1773.4 137.1L1774.4 144.2L1775.3 141.7L1776.2 142.4L1777.1 126.2L1778.0 159.5L1779.0 149.5L1779.9 142.6L1780.8 135.8L1781.7 182.2L1782.6 158.2L1783.6 154.3L1784.5 164.7L1785.4 141.0L1786.3 149.0L1787.2 156.8L1788.2 172.4L1789.1 168.5L1790.0 164.3L1790.9 146.2L1791.8 167.3L1792.8 178.1L1793.7 170.3L1794.6 159.5L1795.5 131.0L1796.5 120.6L1797.4 158.2L1798.3 140.3L1799.2 134.6L1800.1 136.1L1801.1 153.8L1802.0 168.8L1802.9 158.6L1803.8 175.9L1804.7 149.5L1805.7 142.8L1806.6 176.4L1807.5 153.3L1808.4 149.0L1809.3 137.0L1810.3 135.4L1811.2 142.7L1812.1 161.5L1813.0 157.6L1813.9 137.8L1814.9 160.6L1815.8 153.6L1816.7 133.4L1817.6 151.5L1818.5 170.5L1819.5 157.0L1820.4 145.2L1821.3 155.7L1822.2 138.7L1823.1 137.3L1824.1 161.7L1825.0 159.9L1825.9 154.9L1826.8 168.8L1827.2 148.9L1827.7 155.9L1828.7 143.8L1829.6 161.3L1830.5 164.9L1831.4 130.7L1832.3 165.0L1833.3 161.4L1834.2 163.3L1835.1 158.0L1836.0 165.8L1836.9 154.9L1837.9 163.3L1838.8 159.8L1839.7 150.0L1840.6 145.9L1841.6 148.9L1842.5 164.2L1843.4 150.0L1844.3 156.6L1845.2 156.6L1846.2 177.0L1847.1 147.0L1848.0 157.3L1848.9 134.2L1849.8 147.7L1850.8 170.0L1851.7 173.3L1852.6 141.7L1853.5 167.3L1854.4 147.8L1855.4 160.3L1856.3 130.1L1857.2 155.8L1858.1 137.8L1859.0 140.2L1860.0 163.0L1860.9 161.4L1861.8 138.6L1862.7 157.4L1863.6 168.5L1864.6 142.5L1865.5 125.3L1866.4 158.3L1867.3 140.3L1868.2 160.0L1869.2 141.0L1870.1 161.2L1871.0 141.4L1871.9 151.5L1872.8 160.7L1873.8 155.5L1874.7 165.4L1875.6 172.8L1876.5 172.0L1877.4 159.5L1878.4 172.2L1879.3 153.4L1880.2 152.3L1881.1 153.1L1882.0 165.4L1883.0 158.5L1883.9 159.6L1884.8 142.7L1885.7 169.6L1886.7 164.3L1887.6 162.5L1888.5 161.4L1889.4 169.1L1890.3 167.7L1891.3 147.0L1892.2 167.9L1893.1 148.3L1894.0 134.3L1894.9 143.9L1895.9 182.8L1896.8 150.3L1897.7 154.0L1898.6 153.2L1899.5 180.6L1900.5 150.6L1900.6 173.9L1901.4 162.7L1902.3 146.7L1903.2 128.1L1904.1 165.1L1905.1 218.8L1906.0 147.1L1906.9 149.3L1907.8 165.1L1908.7 143.2L1909.7 151.7L1910.6 176.6L1911.5 164.8L1912.4 166.0L1913.3 161.8L1914.3 158.0L1915.2 169.2L1916.1 162.9L1917.0 153.0L1917.9 161.3L1918.9 163.8L1919.8 164.3L1920.2 161.7"/>
<path stroke="#0000ff" d="M277.2 1146.0L278.2 1146.0L279.1 1146.0L280.0 1146.0L280.9 1146.0L281.8 1146.0L282.8 1146.0L283.7 1146.0L284.6 1146.0L285.5 1146.0L286.4 1146.0L287.4 1146.0L288.3 1146.0L289.2 1146.0L290.1 1146.0L291.0 1146.0L292.0 1146.0L292.9 1146.0L293.8 1146.0L294.7 1146.0L295.6 1146.0L296.6 1146.0L297.5 1146.0L298.4 1146.0L299.3 1146.0L300.2 1146.0L301.2 1146.0L302.1 1146.0L303.0 1146.0L303.9 1146.0L304.9 1146.0L305.8 1146.0L306.7 1146.0L307.6 1146.0L308.5 1146.0L309.5 1146.0L310.4 1146.0L311.3 1146.0L312.2 1146.0L313.1 1146.0L314.1 1146.0L315.0 1146.0L315.9 1146.0L316.8 1146.0L317.7 1146.0L318.7 1146.0L319.6 1146.0L320.5 1146.0L321.4 1146.0L322.3 1146.0L323.3 1146.0L324.2 1146.0L325.1 1146.0L326.0 1146.0L326.9 1146.0L327.9 1146.0L328.8 1146.0L329.7 1146.0L330.6 1146.0L331.5 1146.0L332.5 1146.0L333.4 1146.0L334.3 1146.0L335.2 1146.0L336.1 1146.0L337.1 1146.0L338.0 1146.0L338.9 1146.0L339.8 1146.0L340.7 1146.0L341.7 1146.0L342.6 1146.0L343.5 1146.0L344.4 1146.0L345.3 1146.0L346.3 1146.0L347.2 1146.0L348.1 1146.0L349.0 1146.0L350.0 1146.0L350.9 1146.0L351.8 1146.0L352.7 1146.0L353.6 1146.0L354.6 1146.0L355.5 1146.0L356.4 1146.0L357.3 1146.0L358.2 1146.0L359.2 1146.0L360.1 1146.0L361.0 1146.0L361.9 1146.0L362.8 1146.0L363.8 1146.0L364.7 1146.0L365.6 1146.0L366.5 1146.0L367.4 1146.0L368.4 1146.0L369.3 1146.0L370.2 1146.0L371.1 1146.0L372.0 1146.0L373.0 1146.0L373.9 1146.0L374.8 1146.0L375.7 1146.0L376.6 1146.0L377.6 1146.0L378.5 1146.0L379.4 1146.0L380.3 1146.0L381.2 1146.0L382.2 1146.0L383.1 1146.0L384.0 1146.0L384.9 1146.0L385.8 1146.0L386.8 1146.0L387.7 1146.0L388.6 1146.0L389.3 1146.0L389.5 1130.8L390.4 726.2L391.4 162.5L392.1 30.0L392.3 30.0L393.2 30.0L394.1 30.0L395.1 30.0L395.4 30.0L395.8 410.0L396.0 439.0L396.9 523.3L397.8 561.2L398.2 580.1L398.7 613.1L399.7 664.1L400.6 711.4L400.9 729.7L401.5 756.9L402.4 801.7L403.3 842.9L404.3 877.7L405.2 907.4L406.1 934.5L407.0 957.8L407.9 975.6L408.1 978.5L408.9 988.7L409.8 1000.1L410.7 1009.8L411.6 1017.9L412.5 1024.3L413.1 1027.3L413.5 1029.0L414.4 1032.9L415.3 1036.1L416.2 1038.9L417.1 1041.2L418.1 1043.0L419.0 1044.6L419.9 1045.9L420.8 1047.2L421.7 1048.3L422.7 1049.2L423.6 1050.0L424.5 1050.8L424.7 1050.9L425.4 1051.4L426.3 1052.0L427.3 1050.0L428.2 1051.2L429.1 1052.4L430.0 1053.4L430.9 1051.8L431.9 1053.5L432.8 1057.9L433.7 1054.3L434.6 1055.7L435.5 1056.5L436.5 1054.9L437.4 1056.5L438.3 1062.4L439.2 1053.6L440.1 1054.7L441.1 1057.1L442.0 1057.7L442.9 1056.6L443.8 1059.7L444.8 1056.6L445.7 1057.7L446.6 1058.0L447.5 1059.2L448.4 1058.8L449.4 1055.3L450.3 1054.9L451.2 1056.6L452.1 1057.7L453.0 1059.4L454.0 1056.3L454.9 1054.6L455.8 1061.0L456.7 1055.5L457.6 1062.1L458.6 1058.6L459.5 1057.2L460.4 1060.6L461.3 1060.9L462.2 1057.6L463.2 1056.2L464.1 1058.9L465.0 1055.3L465.9 1059.5L466.8 1054.5L467.8 1057.8L468.7 1057.5L469.6 1056.8L470.5 1057.4L471.4 1054.4L472.4 1053.7L473.3 1057.0L474.2 1058.4L475.1 1060.4L476.0 1059.5L477.0 1058.0L477.9 1058.3L478.8 1058.2L479.7 1058.1L480.6 1057.1L481.6 1060.7L482.5 1060.1L483.4 1055.9L484.3 1056.4L485.2 1059.2L486.2 1055.6L487.1 1059.4L488.0 1058.6L488.9 1061.7L489.9 1056.5L490.8 1058.1L491.7 1056.0L492.6 1056.7L493.5 1057.9L494.5 1057.8L495.4 1055.8L496.3 1058.4L497.2 1058.4L498.1 1058.0L499.1 1056.5L500.0 1056.3L500.9 1054.3L501.8 1058.3L502.7 1055.6L503.7 1059.4L504.6 1056.9L505.5 1057.9L506.4 1054.7L507.3 1056.9L508.3 1059.0L509.2 1057.0L510.1 1057.4L511.0 1058.7L511.9 1058.7L512.9 1060.0L513.8 1052.7L514.7 1057.8L515.6 1056.2L516.5 1060.4L517.5 1060.2L518.4 1058.4L519.3 1058.4L520.2 1056.5L521.1 1060.1L522.1 1057.0L523.0 1055.1L523.9 1059.9L524.8 1056.3L525.7 1060.0L526.7 1057.4L527.6 1057.4L528.5 1054.7L529.4 1059.5L530.3 1057.8L531.3 1056.1L532.2 1060.4L533.1 1058.1L534.0 1059.8L535.0 1059.5L535.9 1056.8L536.8 1056.8L537.7 1053.1L538.6 1055.4L539.6 1055.6L540.5 1058.5L541.4 1058.7L542.3 1057.9L543.2 1062.6L544.2 1054.9L545.1 1059.5L546.0 1060.3L546.9 1059.1L547.8 1056.5L548.8 1055.7L549.7 1058.9L550.6 1057.3L551.5 1058.3L552.4 1060.2L553.4 1057.9L554.3 1058.2L555.2 1061.3L556.1 1056.1L557.0 1061.3L558.0 1057.8L558.9 1060.3L559.8 1059.9L560.7 1059.6L561.6 1056.9L562.6 1060.7L563.5 1058.7L564.4 1055.2L565.3 1059.7L566.2 1058.4L567.2 1057.0L568.1 1059.5L569.0 1057.4L569.9 1059.6L570.8 1057.0L571.8 1058.2L572.7 1060.2L573.6 1055.6L574.5 1058.5L575.4 1058.9L576.4 1060.2L577.3 1059.3L578.2 1058.6L579.1 1058.0L580.1 1056.2L581.0 1061.0L581.9 1059.1L582.8 1056.0L583.7 1058.0L584.7 1057.6L585.6 1055.3L586.5 1057.8L587.4 1057.5L588.3 1058.5L589.3 1055.0L590.2 1056.4L591.1 1059.9L592.0 1057.4L592.9 1060.7L593.9 1056.3L594.8 1057.1L595.7 1058.8L596.6 1059.3L597.5 1062.0L598.5 1057.0L599.4 1058.7L600.3 1059.1L601.2 1057.1L602.1 1059.8L603.1 1059.7L604.0 1059.9L604.9 1061.2L605.8 1053.8L606.7 1058.9L607.7 1059.3L608.6 1056.8L609.5 1064.8L610.4 1058.6L611.3 1058.6L612.3 1060.5L613.2 1057.7L614.1 1062.6L615.0 1058.6L615.9 1056.9L616.9 1063.0L617.8 1061.6L618.7 1059.0L619.6 1058.8L620.5 1060.1L621.5 1058.1L622.4 1058.4L623.3 1061.5L624.2 1059.1L625.1 1061.4L626.1 1063.0L627.0 1063.7L627.9 1057.0L628.8 1059.2L629.8 1055.2L630.7 1061.9L631.6 1059.7L632.5 1058.4L633.4 1059.3L634.4 1058.1L635.3 1058.8L636.2 1060.3L637.1 1063.6L638.0 1060.9L639.0 1055.7L639.9 1057.5L640.8 1056.3L641.7 1060.2L642.6 1059.4L643.6 1060.8L644.5 1058.3L645.4 1058.9L646.3 1058.1L647.2 1055.6L648.2 1060.7L649.1 1057.6L650.0 1061.8L650.9 1056.9L651.8 1059.9L652.8 1059.2L653.7 1058.8L654.6 1055.8L655.5 1059.1L656.4 1060.0L657.4 1061.4L658.3 1058.5L659.2 1060.7L660.1 1060.0L661.0 1059.1L662.0 1057.7L662.9 1060.5L663.8 1057.7L664.7 1055.6L665.6 1062.0L666.6 1056.4L667.5 1054.8L668.4 1060.2L669.3 1057.9L670.2 1061.8L671.2 1058.4L672.1 1059.7L673.0 1058.5L673.9 1060.9L674.9 1060.7L675.8 1060.0L676.7 1060.5L677.6 1060.3L678.5 1059.5L679.5 1061.3L680.4 1059.4L681.3 1058.2L682.2 1063.7L683.1 1058.8L684.1 1060.6L685.0 1061.4L685.9 1061.8L686.8 1060.9L687.7 1060.7L688.7 1058.5L689.6 1061.7L690.5 1057.2L691.4 1060.8L692.3 1057.9L693.3 1057.1L694.2 1061.6L695.1 1057.1L696.0 1054.9L696.9 1060.0L697.9 1058.0L698.8 1059.4L699.7 1059.0L700.6 1059.5L701.5 1060.1L702.5 1057.6L703.4 1057.3L704.3 1059.1L705.2 1056.1L706.1 1056.9L707.1 1057.6L708.0 1060.4L708.9 1055.3L709.8 1056.4L710.7 1063.2L711.7 1061.2L712.6 1059.9L713.5 1057.2L714.4 1056.6L715.3 1059.6L716.3 1058.5L717.2 1057.6L718.1 1061.5L719.0 1057.8L720.0 1059.6L720.9 1058.6L721.8 1059.1L722.7 1061.3L723.6 1061.0L724.6 1058.9L725.5 1058.8L726.4 1059.5L727.3 1056.9L728.2 1059.7L729.2 1061.4L730.1 1059.7L731.0 1059.4L731.9 1059.3L732.8 1056.8L733.8 1058.0L734.7 1057.0L735.6 1057.8L736.5 1059.4L737.4 1057.0L738.4 1059.6L739.3 1058.6L740.2 1061.0L741.1 1058.9L742.0 1059.7L743.0 1058.4L743.9 1055.5L744.8 1054.4L745.7 1057.1L746.6 1059.2L747.6 1057.5L748.5 1058.7L749.4 1060.3L750.3 1059.2L751.2 1059.6L752.2 1060.3L753.1 1056.4L754.0 1060.2L754.9 1060.1L755.8 1057.7L756.8 1060.5L757.7 1061.4L758.6 1060.8L759.5 1058.2L760.4 1058.4L761.4 1058.6L762.3 1060.1L763.2 1060.9L764.1 1057.4L765.1 1062.0L766.0 1059.6L766.9 1061.8L767.8 1060.0L768.7 1059.5L769.7 1056.8L770.6 1064.8L771.5 1056.5L772.4 1060.9L773.3 1058.6L774.3 1057.6L775.2 1060.7L776.1 1059.4L777.0 1058.2L777.9 1059.4L778.9 1060.6L779.8 1058.8L780.7 1059.0L781.6 1062.1L782.5 1056.5L783.5 1058.8L784.4 1064.0L785.3 1060.8L786.2 1055.8L787.1 1056.1L788.1 1058.7L789.0 1062.5L789.9 1059.7L790.8 1057.2L791.7 1058.5L792.7 1059.9L793.6 1060.7L794.5 1057.7L795.4 1059.7L796.3 1058.7L797.3 1058.3L798.2 1056.1L799.1 1059.0L800.0 1058.8L800.9 1062.9L801.9 1057.2L802.8 1057.6L803.7 1059.4L804.6 1063.9L805.5 1060.5L806.5 1059.3L807.4 1055.3L808.3 1058.3L809.2 1057.9L810.2 1057.9L811.1 1056.9L812.0 1061.8L812.9 1061.2L813.8 1061.9L814.8 1060.2L815.7 1060.3L816.6 1059.5L817.5 1061.7L818.4 1059.5L819.4 1061.4L820.3 1055.6L821.2 1060.8L822.1 1054.8L823.0 1056.6L824.0 1062.2L824.9 1058.0L825.8 1058.7L826.7 1062.9L827.6 1060.0L828.6 1068.0L829.5 1084.0L829.7 1087.1L830.4 1105.3L831.3 1125.7L831.5 1126.5L832.2 1115.1L833.2 1082.8L834.1 1054.0L834.3 1050.9L835.0 1042.2L835.9 1033.6L836.8 1026.7L837.8 1020.6L838.7 1014.4L838.9 1013.1L839.6 1007.5L840.5 1000.2L841.4 993.0L842.4 986.4L843.3 980.7L844.2 976.5L844.6 975.3L845.1 973.9L846.0 971.8L847.0 970.3L847.9 969.0L848.8 968.0L849.7 967.2L850.6 966.5L851.6 965.7L852.1 965.2L852.5 964.9L853.4 963.9L854.3 966.3L855.2 962.4L856.2 964.6L857.1 960.3L858.0 958.4L858.9 961.1L859.9 958.6L860.8 956.1L861.7 953.8L862.6 952.8L863.5 955.0L864.5 956.9L865.4 958.1L866.3 951.4L867.2 949.5L868.1 951.9L869.1 948.5L870.0 953.7L870.9 953.4L871.8 948.2L872.7 954.9L873.7 950.6L874.6 951.2L875.5 951.7L876.4 947.6L877.3 954.4L878.3 953.1L879.2 957.5L880.1 954.7L881.0 953.3L881.9 952.9L882.9 952.4L883.8 951.1L884.7 953.5L885.6 956.9L886.4 951.3L886.5 950.6L887.5 954.7L888.4 953.6L889.3 946.8L890.2 948.7L891.1 948.4L892.1 949.4L893.0 950.7L893.9 952.3L894.8 949.3L895.7 951.2L896.7 951.7L897.6 950.5L898.5 950.5L899.4 947.9L900.0 952.6L900.3 943.5L901.3 952.6L902.2 950.9L903.1 947.2L904.0 951.7L905.0 950.6L905.9 949.1L906.8 956.9L907.7 950.2L908.6 951.3L909.6 949.2L910.5 947.1L911.4 946.5L912.3 944.1L913.2 944.0L914.2 944.9L915.1 947.6L916.0 944.5L916.9 949.7L917.8 947.1L918.8 942.8L919.7 944.3L920.6 949.9L921.5 947.6L922.4 943.4L923.4 943.9L924.3 942.4L925.2 949.8L926.1 948.2L927.0 945.2L928.0 946.9L928.9 944.1L929.8 943.7L930.7 942.5L931.6 943.5L932.6 941.3L933.5 940.4L934.4 941.8L935.3 945.1L936.2 937.9L937.2 940.4L938.1 939.4L939.0 939.6L939.9 943.9L940.8 937.5L941.8 940.3L942.7 941.3L943.6 934.0L944.5 937.8L945.4 935.6L946.4 933.3L947.3 930.7L948.2 939.5L949.1 936.0L950.1 931.4L951.0 934.5L951.9 941.0L952.8 931.0L953.7 930.1L954.7 927.9L955.6 928.8L956.5 930.1L957.4 927.6L958.3 927.7L959.3 928.4L960.2 925.6L961.1 924.7L962.0 928.0L962.9 921.7L963.9 921.7L964.8 921.2L965.0 931.0L965.7 922.5L966.6 922.7L967.5 924.6L968.5 919.6L969.4 924.9L970.3 916.6L971.2 918.5L972.1 920.5L973.1 914.5L974.0 916.6L974.9 916.5L975.8 920.6L976.7 914.8L977.7 911.8L978.6 912.1L979.5 918.4L980.4 910.2L981.3 909.0L982.3 910.7L983.2 913.6L984.1 916.3L985.0 914.1L985.9 912.6L986.9 909.6L987.8 908.2L988.7 911.4L989.6 913.5L990.5 909.4L991.5 911.5L992.4 903.2L993.3 910.1L994.2 904.6L995.2 903.0L996.1 907.7L997.0 901.4L997.4 904.5L997.9 906.0L998.8 905.9L999.8 902.3L1000.7 898.9L1001.6 907.0L1002.5 899.1L1003.4 900.7L1004.4 901.9L1005.3 899.4L1006.2 898.6L1007.1 898.1L1008.0 895.0L1009.0 899.4L1009.9 890.3L1010.8 892.9L1011.7 896.7L1012.6 900.1L1013.6 893.8L1014.5 894.4L1015.4 890.3L1016.3 889.8L1017.2 885.6L1018.2 891.1L1019.1 887.7L1020.0 890.7L1020.9 890.0L1021.8 883.6L1022.8 888.0L1023.7 887.3L1024.6 887.5L1025.5 884.8L1026.4 883.3L1027.4 884.9L1028.3 887.4L1029.2 882.2L1029.8 885.4L1030.1 883.7L1031.0 881.3L1032.0 880.6L1032.9 887.9L1033.8 874.9L1034.7 877.0L1035.6 872.9L1036.6 870.5L1037.5 880.5L1038.4 878.7L1039.3 875.6L1040.3 872.8L1041.2 876.7L1042.1 875.4L1043.0 870.5L1043.9 876.0L1044.9 871.9L1045.8 868.5L1046.7 872.1L1047.6 868.2L1048.5 870.4L1049.5 874.3L1050.4 870.4L1051.3 868.7L1052.2 868.5L1053.1 866.7L1054.1 864.9L1055.0 864.6L1055.9 864.3L1056.8 865.6L1057.7 864.3L1058.7 864.1L1059.6 864.2L1060.5 857.3L1061.4 867.0L1062.3 859.6L1063.3 864.9L1064.2 861.0L1065.1 855.9L1066.0 858.7L1066.9 852.6L1067.9 859.5L1068.8 856.8L1069.7 857.2L1070.6 854.5L1071.5 854.9L1072.5 854.5L1073.4 852.3L1074.3 848.4L1075.2 850.8L1076.1 850.5L1077.1 850.9L1078.0 851.6L1078.9 853.4L1079.8 851.4L1080.7 847.3L1081.7 852.9L1082.6 843.9L1083.5 846.7L1084.4 847.7L1085.3 845.7L1086.3 841.1L1087.2 841.3L1088.1 840.9L1089.0 835.2L1090.0 832.6L1090.9 843.7L1091.8 835.8L1092.7 840.4L1093.6 841.7L1094.6 838.0L1094.7 832.7L1095.5 836.5L1096.4 836.2L1097.3 829.1L1098.2 831.2L1099.2 832.3L1100.1 825.1L1101.0 828.7L1101.9 831.9L1102.8 832.3L1103.8 829.2L1104.7 826.3L1105.6 822.9L1106.5 822.3L1107.4 823.9L1108.4 827.4L1109.3 819.4L1110.2 821.4L1111.1 824.5L1112.0 824.2L1113.0 818.3L1113.9 817.0L1114.8 814.5L1115.7 820.6L1116.6 808.9L1117.6 820.9L1118.5 813.8L1119.4 808.2L1120.3 808.3L1121.2 814.3L1122.2 807.9L1123.1 804.8L1124.0 805.6L1124.9 810.7L1125.8 800.5L1126.8 811.1L1127.1 804.9L1127.7 808.3L1128.6 805.1L1129.5 803.8L1130.4 799.9L1131.4 805.2L1132.3 799.0L1133.2 794.2L1134.1 797.6L1135.1 794.9L1136.0 794.3L1136.9 797.6L1137.8 795.2L1138.7 792.7L1139.7 790.2L1140.6 783.6L1141.5 784.0L1142.4 790.5L1143.3 789.4L1144.3 790.5L1145.2 794.2L1146.1 780.0L1147.0 781.8L1147.9 789.8L1148.9 781.6L1149.8 772.0L1150.7 777.8L1151.6 776.6L1152.5 776.7L1153.5 779.2L1154.4 779.7L1155.3 777.4L1156.2 772.7L1157.1 773.0L1158.1 768.5L1159.0 763.4L1159.5 767.1L1159.9 765.8L1160.8 769.2L1161.7 771.6L1162.7 757.5L1163.6 761.9L1164.5 759.0L1165.4 763.8L1166.3 767.8L1167.3 755.2L1168.2 767.3L1169.1 758.6L1170.0 759.0L1170.9 754.9L1171.9 751.6L1172.8 750.4L1173.7 760.5L1174.6 747.5L1175.5 757.6L1176.5 746.5L1177.4 749.6L1178.3 751.2L1179.2 747.7L1180.2 749.7L1181.1 743.5L1182.0 738.6L1182.9 738.0L1183.8 739.8L1184.8 734.5L1185.7 735.7L1186.6 728.1L1187.5 733.4L1188.4 736.7L1189.4 734.3L1190.3 735.1L1191.2 732.1L1192.1 730.4L1193.0 725.9L1194.0 724.4L1194.9 726.2L1195.8 723.6L1196.7 727.1L1197.6 725.3L1198.6 731.9L1199.5 724.0L1200.4 721.7L1201.3 708.1L1202.2 723.0L1203.2 716.1L1204.1 716.6L1205.0 720.6L1205.9 712.0L1206.8 711.9L1207.8 716.8L1208.7 719.3L1209.6 708.8L1210.5 713.4L1211.4 703.6L1212.4 706.4L1213.3 701.9L1214.2 704.3L1215.1 695.4L1216.0 697.9L1217.0 693.2L1217.9 698.0L1218.8 701.7L1219.7 702.3L1220.6 697.3L1221.6 692.8L1222.5 695.6L1223.4 681.5L1224.3 691.0L1225.3 687.7L1226.2 688.2L1227.1 692.9L1228.0 681.9L1228.9 682.6L1229.9 680.6L1230.8 687.2L1231.0 682.9L1231.7 682.3L1232.6 676.0L1233.5 686.0L1234.5 676.1L1235.4 672.5L1236.3 678.8L1237.2 679.5L1238.1 669.1L1239.1 672.8L1240.0 668.0L1240.9 668.6L1241.8 666.2L1242.7 670.7L1243.7 678.2L1244.6 665.2L1245.5 669.8L1246.4 663.1L1247.3 667.1L1248.3 656.5L1249.2 663.8L1250.1 658.0L1251.0 655.7L1251.9 659.9L1252.9 657.0L1253.8 657.5L1254.7 660.5L1255.6 648.7L1256.5 658.3L1257.5 660.2L1258.4 654.3L1259.3 650.4L1260.2 649.6L1261.1 650.3L1262.1 649.8L1263.0 656.3L1263.9 642.7L1264.8 636.5L1265.7 646.6L1266.7 650.4L1267.6 637.6L1268.5 640.7L1269.4 657.1L1270.4 641.1L1271.3 643.2L1271.5 641.7L1272.2 626.1L1273.1 629.6L1274.0 633.7L1275.0 631.7L1275.9 623.2L1276.8 634.4L1277.7 624.6L1278.6 629.8L1279.6 621.6L1280.5 623.2L1281.4 626.5L1282.3 616.7L1283.2 617.9L1284.2 610.5L1285.1 620.0L1286.0 616.2L1286.9 619.0L1287.8 608.7L1288.8 617.0L1289.7 612.3L1290.6 604.9L1291.5 607.5L1291.7 608.5L1292.4 607.8L1293.4 606.4L1294.3 603.9L1295.2 607.5L1296.1 614.7L1297.0 597.7L1298.0 608.4L1298.9 593.4L1299.8 600.0L1300.7 585.0L1301.6 593.9L1302.6 596.6L1303.5 593.3L1304.4 603.8L1305.3 595.2L1306.2 597.0L1307.2 594.2L1308.1 603.5L1309.0 603.4L1309.9 588.1L1310.8 590.6L1311.8 592.1L1312.0 590.2L1312.7 592.2L1313.6 590.5L1314.5 583.7L1315.5 587.4L1316.4 581.8L1317.3 587.8L1318.2 592.4L1319.1 585.7L1320.1 582.2L1321.0 586.1L1321.9 581.5L1322.8 581.1L1323.7 573.0L1324.7 572.5L1325.6 570.3L1326.5 578.8L1327.4 572.3L1328.3 566.6L1329.3 571.3L1330.2 571.7L1331.1 574.4L1332.0 565.5L1332.2 568.7L1332.9 563.8L1333.9 568.9L1334.8 556.9L1335.7 566.8L1336.6 572.2L1337.5 564.1L1338.5 562.0L1339.4 557.2L1340.3 565.5L1341.2 565.2L1342.1 563.1L1343.1 563.1L1344.0 571.2L1344.9 556.0L1345.8 552.6L1346.7 562.2L1347.7 562.7L1348.6 557.7L1349.5 560.5L1350.4 551.5L1351.3 558.0L1352.3 550.9L1352.6 560.2L1353.2 560.7L1354.1 560.7L1355.0 559.2L1355.9 548.9L1356.9 546.0L1357.8 548.9L1358.7 547.8L1359.6 559.6L1360.5 541.6L1361.5 553.1L1362.4 539.1L1363.3 532.5L1364.2 544.1L1365.2 540.4L1366.1 539.6L1367.0 549.0L1367.9 547.2L1368.8 544.2L1369.8 539.0L1370.7 534.6L1371.6 537.6L1372.5 531.6L1372.9 539.7L1373.4 544.0L1374.4 535.6L1375.3 535.2L1376.2 541.6L1377.1 527.8L1378.0 537.4L1379.0 535.3L1379.9 529.5L1380.8 535.5L1381.7 525.6L1382.6 525.9L1383.6 524.7L1384.5 526.2L1385.4 527.9L1386.3 528.6L1387.2 522.0L1388.2 515.5L1389.1 517.8L1390.0 519.2L1390.9 515.0L1391.8 512.5L1392.8 525.5L1393.1 518.7L1393.7 511.5L1394.6 520.8L1395.5 519.1L1396.4 512.6L1397.4 516.4L1398.3 508.1L1399.2 515.6L1400.1 510.0L1401.0 499.0L1402.0 505.7L1402.9 518.6L1403.8 516.3L1404.7 515.5L1405.6 509.7L1406.6 516.4L1407.5 505.2L1408.4 498.3L1409.3 498.6L1410.3 510.6L1411.2 507.4L1412.1 506.9L1413.0 509.2L1413.4 495.2L1413.9 507.8L1414.9 509.6L1415.8 501.0L1416.7 500.5L1417.6 493.5L1418.5 492.8L1419.5 501.6L1420.4 511.5L1421.3 495.8L1422.2 494.5L1423.1 488.6L1424.1 506.4L1425.0 503.7L1425.9 488.2L1426.8 487.3L1427.7 488.6L1428.7 495.3L1429.6 487.6L1430.5 497.2L1431.4 500.5L1432.3 493.6L1433.3 492.2L1433.6 488.1L1434.2 486.3L1435.1 501.5L1436.0 489.8L1436.9 488.2L1437.9 497.4L1438.8 491.5L1439.7 489.2L1440.6 486.6L1441.5 493.4L1442.5 491.5L1443.4 493.9L1444.3 485.5L1445.2 488.7L1446.1 489.7L1447.1 482.5L1448.0 486.6L1448.9 491.8L1449.8 478.5L1450.7 479.0L1451.7 481.5L1452.6 489.4L1453.5 477.1L1454.4 486.1L1455.4 492.9L1456.3 482.9L1457.2 471.8L1458.1 484.0L1459.0 477.9L1460.0 473.3L1460.9 479.5L1461.8 482.0L1462.2 480.1L1462.7 476.7L1463.6 482.5L1464.6 477.5L1465.5 476.1L1466.4 481.0L1467.3 474.7L1468.2 475.3L1469.2 480.0L1470.1 479.0L1471.0 477.1L1471.9 478.3L1472.8 478.4L1473.8 482.7L1474.7 476.3L1475.6 472.6L1476.5 472.9L1477.4 480.8L1478.4 473.0L1479.3 472.5L1480.2 480.7L1481.1 472.6L1482.0 476.2L1483.0 477.1L1483.9 473.6L1484.4 475.9L1484.8 486.9L1485.7 473.3L1486.6 480.4L1487.6 474.6L1488.5 470.1L1489.4 475.0L1490.3 475.9L1491.2 472.5L1492.2 470.3L1493.1 477.5L1494.0 476.1L1494.9 469.7L1495.8 463.5L1496.8 472.1L1497.7 467.0L1498.6 475.7L1499.5 471.4L1500.5 470.9L1501.4 478.2L1502.3 471.0L1503.2 471.8L1504.1 484.6L1505.1 470.9L1506.0 468.7L1506.9 468.8L1507.8 468.2L1508.7 476.0L1509.7 473.8L1510.6 470.6L1511.5 474.2L1512.4 471.9L1513.3 462.5L1514.3 473.9L1515.2 470.9L1516.1 458.8L1516.5 469.6L1517.0 474.3L1517.9 467.2L1518.9 467.5L1519.8 467.7L1520.7 477.4L1521.6 466.6L1522.5 466.0L1523.5 456.7L1524.4 464.1L1525.3 470.1L1526.2 465.8L1527.1 463.8L1528.1 468.1L1529.0 467.4L1529.9 459.6L1530.8 464.3L1531.7 464.0L1532.7 472.0L1533.6 464.3L1534.5 476.9L1535.4 459.6L1536.3 468.8L1537.3 462.7L1538.2 458.4L1539.1 471.9L1540.0 459.5L1540.9 464.5L1541.9 459.3L1542.8 467.5L1543.7 469.2L1544.6 458.3L1545.5 462.9L1546.5 464.9L1547.4 471.3L1548.3 457.8L1549.2 466.7L1550.2 466.0L1551.1 468.5L1552.0 464.6L1552.9 461.4L1553.8 464.9L1554.8 465.0L1555.7 467.5L1556.6 456.3L1557.5 455.5L1558.4 465.9L1559.4 469.0L1560.3 462.7L1561.2 473.0L1562.1 462.7L1563.0 462.6L1564.0 463.1L1564.9 455.3L1565.8 453.9L1566.7 461.4L1567.6 465.7L1568.6 458.1L1569.5 457.5L1570.4 470.2L1571.3 467.6L1572.2 465.0L1573.2 472.6L1574.1 469.6L1575.0 454.5L1575.9 470.3L1576.8 458.8L1577.8 467.7L1578.7 457.9L1579.6 461.5L1580.5 458.4L1581.4 470.8L1582.4 461.6L1583.3 466.3L1584.2 459.0L1585.1 459.3L1586.0 462.2L1587.0 463.8L1587.9 463.2L1588.8 461.7L1589.7 465.9L1590.6 465.5L1591.6 466.6L1592.5 468.8L1593.0 457.4L1593.4 470.3L1594.3 456.0L1595.3 459.3L1596.2 472.4L1597.1 473.1L1598.0 463.0L1598.9 469.0L1599.9 462.4L1600.8 458.0L1601.7 461.3L1602.6 464.4L1603.5 464.2L1604.5 455.3L1605.4 465.3L1606.3 453.9L1607.2 452.2L1608.1 465.3L1609.1 461.7L1610.0 454.0L1610.9 467.1L1611.8 461.0L1612.7 457.7L1613.7 469.1L1614.6 461.4L1615.5 462.8L1616.4 466.4L1617.3 455.2L1618.3 464.3L1619.2 451.2L1620.1 459.8L1621.0 467.5L1621.9 462.3L1622.9 467.9L1623.8 459.4L1624.7 460.3L1625.6 470.4L1626.5 466.2L1627.5 461.5L1628.4 463.8L1629.3 469.4L1630.2 458.3L1631.1 456.9L1632.1 472.4L1633.0 456.4L1633.9 475.5L1634.8 465.3L1635.7 468.2L1636.7 467.7L1637.6 463.8L1638.5 471.2L1639.4 465.5L1640.4 455.9L1641.3 462.6L1642.2 457.1L1643.1 460.5L1644.0 474.0L1645.0 455.7L1645.9 460.7L1646.8 461.9L1647.7 467.5L1648.6 468.4L1649.6 471.3L1650.5 466.5L1651.4 465.1L1652.3 466.6L1653.2 466.7L1654.2 476.4L1655.1 470.0L1656.0 470.3L1656.9 464.5L1657.8 468.6L1658.8 468.7L1659.7 465.8L1660.6 468.9L1661.5 467.9L1662.4 460.6L1663.4 467.4L1664.3 471.5L1665.2 463.4L1666.1 462.4L1667.0 463.4L1668.0 473.9L1668.9 461.8L1669.4 466.6L1669.8 466.2L1670.7 466.5L1671.6 464.5L1672.6 464.4L1673.5 459.1L1674.4 465.8L1675.3 467.6L1676.2 463.7L1677.2 467.8L1678.1 461.4L1679.0 466.4L1679.9 463.3L1680.8 470.1L1681.8 462.1L1682.7 464.1L1683.6 472.0L1684.5 469.5L1685.5 467.1L1686.4 474.6L1687.3 473.4L1688.2 465.1L1689.1 465.0L1690.1 460.6L1691.0 474.7L1691.9 469.8L1692.8 478.7L1693.7 458.6L1694.7 475.1L1695.6 469.4L1696.5 457.8L1697.4 460.5L1698.3 472.8L1699.3 456.2L1700.2 465.9L1701.1 473.8L1702.0 467.0L1702.9 465.0L1703.9 465.2L1704.8 479.9L1705.7 458.8L1706.6 477.2L1707.5 469.9L1708.5 461.1L1709.4 466.7L1710.3 469.0L1711.2 472.1L1712.1 465.9L1713.1 461.6L1714.0 472.0L1714.9 466.8L1715.8 471.1L1716.7 471.4L1717.7 480.2L1718.6 467.8L1719.5 464.3L1720.4 470.1L1721.3 463.7L1722.3 468.4L1723.2 462.8L1724.1 468.6L1725.0 471.4L1725.9 472.1L1726.9 469.0L1727.8 468.0L1728.7 473.7L1729.6 470.4L1730.6 476.7L1731.5 476.8L1732.4 466.3L1733.3 467.9L1734.2 465.1L1735.2 469.1L1736.1 468.6L1737.0 460.2L1737.9 474.5L1738.8 468.6L1739.8 461.8L1740.7 459.4L1741.6 467.3L1742.5 470.9L1743.4 475.9L1744.4 471.3L1745.3 469.7L1746.0 470.5L1746.2 467.9L1747.1 467.6L1748.0 473.2L1749.0 475.5L1749.9 472.4L1750.8 468.6L1751.7 462.4L1752.6 479.6L1753.6 465.5L1754.5 472.7L1755.4 465.5L1756.3 461.4L1757.2 468.7L1758.2 477.5L1759.1 473.7L1760.0 469.7L1760.9 473.4L1761.8 472.1L1762.8 475.9L1763.7 473.0L1764.6 475.2L1765.5 467.5L1766.4 470.5L1767.4 468.3L1768.3 480.8L1769.2 474.7L1770.1 476.3L1771.0 474.7L1772.0 477.1L1772.9 476.4L1773.8 464.4L1774.7 474.1L1775.7 479.4L1776.6 474.4L1777.5 461.2L1778.4 469.3L1779.3 478.0L1780.3 474.5L1781.2 473.6L1782.1 473.1L1783.0 483.1L1783.9 478.4L1784.9 474.5L1785.8 482.7L1786.7 474.7L1787.6 473.4L1788.5 469.8L1789.5 468.4L1790.4 475.0L1791.3 473.0L1792.2 470.7L1793.1 469.0L1794.1 474.0L1795.0 478.4L1795.9 471.5L1796.8 470.2L1797.7 473.9L1798.7 471.8L1799.6 466.6L1800.5 477.6L1801.4 478.7L1802.3 480.8L1803.3 473.4L1804.2 470.4L1805.1 478.0L1806.0 466.0L1806.9 478.6L1807.9 474.2L1808.8 476.3L1809.7 468.6L1810.6 479.2L1811.5 467.4L1812.5 477.0L1813.4 483.2L1814.3 479.2L1815.2 477.2L1816.1 467.7L1817.1 479.1L1818.0 476.7L1818.9 466.0L1819.8 476.1L1820.7 480.3L1821.7 480.9L1822.6 485.3L1823.5 475.5L1824.4 471.1L1825.4 479.4L1826.3 483.2L1827.2 476.4L1828.1 477.9L1829.0 478.9L1830.0 476.0L1830.9 478.3L1831.8 480.5L1832.7 473.6L1833.6 488.6L1834.6 485.0L1835.5 480.8L1836.4 486.5L1837.3 471.8L1838.2 491.3L1839.2 476.4L1840.1 477.3L1841.0 478.7L1841.9 478.4L1842.8 483.8L1843.8 484.8L1844.7 473.9L1845.6 482.2L1846.5 489.2L1847.4 488.3L1848.4 490.0L1849.3 480.8L1850.2 476.5L1851.1 484.2L1852.0 482.1L1853.0 485.6L1853.9 478.6L1854.8 478.8L1855.7 478.7L1856.6 474.4L1857.6 490.3L1858.5 479.9L1859.4 492.3L1860.3 480.7L1861.2 480.4L1862.2 481.0L1863.1 480.7L1864.0 485.7L1864.9 488.5L1865.8 481.4L1866.8 488.8L1867.7 482.0L1868.6 490.2L1869.5 484.3L1870.5 484.7L1871.4 490.6L1872.3 488.1L1873.2 481.9L1874.1 486.6L1875.1 484.2L1876.0 489.8L1876.9 486.6L1877.8 494.8L1878.7 491.3L1879.7 481.1L1880.6 484.8L1881.5 487.6L1882.4 487.1L1883.3 494.8L1884.3 485.8L1885.2 494.3L1886.1 491.9L1887.0 484.7L1887.9 492.1L1888.9 491.0L1889.8 488.9L1890.7 488.0L1891.6 481.6L1892.5 497.3L1893.5 490.7L1893.8 485.6L1894.4 491.1L1895.3 490.6L1896.2 492.7L1897.1 490.1L1898.1 485.2L1899.0 482.0L1899.9 486.5L1900.8 481.2L1901.7 487.6L1902.7 496.4L1903.6 484.0L1904.5 498.0L1905.4 487.8L1906.3 487.3L1907.3 492.9L1908.2 488.0L1909.1 489.5L1910.0 485.8L1910.9 487.9L1911.9 483.0L1912.8 487.8L1913.7 482.5L1914.6 485.4L1915.6 483.9L1916.5 484.3L1917.4 487.1L1918.3 478.7L1919.2 481.2L1920.2 495.6"/>
</g>
<g stroke-linecap="butt">
<line x1="280.2" y1="48" x2="280.2" y2="1247" stroke="#000" stroke-width="2.4"/>
<line x1="279" y1="1229.2" x2="1918" y2="1229.2" stroke="#3a3a3a" stroke-width="3.2"/>
<line x1="261.5" y1="1150.1" x2="280" y2="1150.1" stroke="#333" stroke-width="3.4"/>
<line x1="261.5" y1="836.7" x2="280" y2="836.7" stroke="#333" stroke-width="3.4"/>
<line x1="261.5" y1="521.3" x2="280" y2="521.3" stroke="#333" stroke-width="3.4"/>
<line x1="261.5" y1="205.3" x2="280" y2="205.3" stroke="#333" stroke-width="3.4"/>
<line x1="649.1" y1="1229" x2="649.1" y2="1247" stroke="#333" stroke-width="3.4"/>
<line x1="1014.8" y1="1229" x2="1014.8" y2="1247" stroke="#333" stroke-width="3.4"/>
<line x1="1384.1" y1="1229" x2="1384.1" y2="1247" stroke="#333" stroke-width="3.4"/>
<line x1="1752.6" y1="1229" x2="1752.6" y2="1247" stroke="#333" stroke-width="3.4"/>
</g>
<g fill="none" stroke="#000" stroke-width="4" stroke-linecap="butt" stroke-linejoin="miter"><line x1="410.9" y1="1183" x2="410.9" y2="1275"/><polyline points="393.6,1211 410.9,1182.5 428.2,1211"/></g>
<g fill="none" stroke="#000" stroke-width="4" stroke-linecap="butt" stroke-linejoin="miter"><line x1="828.8" y1="1183" x2="828.8" y2="1275"/><polyline points="811.5,1211 828.8,1182.5 846.1,1211"/></g>
<g font-family='"Liberation Sans", Arial, Helvetica, sans-serif' fill="#000">
<text transform="translate(232 1166.5) scale(1 1.03)" font-size="54.8" text-anchor="end">0</text>
<text transform="translate(232 853.5) scale(1 1.03)" font-size="54.8" text-anchor="end">200</text>
<text transform="translate(232 538.0) scale(1 1.03)" font-size="54.8" text-anchor="end">400</text>
<text transform="translate(232 223.6) scale(1 1.03)" font-size="54.8" text-anchor="end">600</text>
<text transform="translate(278.0 1322.6) scale(1 1.03)" font-size="54.8" text-anchor="middle">0</text>
<text transform="translate(646.5 1322.6) scale(1 1.03)" font-size="54.8" text-anchor="middle">200</text>
<text transform="translate(1013.4 1322.6) scale(1 1.03)" font-size="54.8" text-anchor="middle">400</text>
<text transform="translate(1383.0 1322.6) scale(1 1.03)" font-size="54.8" text-anchor="middle">600</text>
<text transform="translate(1750.9 1322.6) scale(1 1.03)" font-size="54.8" text-anchor="middle">800</text>
<text transform="translate(318.8 1364.5) scale(1 1.04)" font-size="55.5">DiSC(3)-5</text>
<text transform="translate(730.5 1364.4) scale(1 1.04)" font-size="55.6">Peptide</text>
<text x="941.7" y="1436.2" font-size="64" font-weight="bold">Time (sec)</text>
<text transform="translate(86.8 1072.5) rotate(-90) scale(1 1.03)" font-size="64.4" font-weight="bold">Fluorescence intensity (a.u.)</text>
<line x1="1167.5" y1="813.0" x2="1276.5" y2="813.0" stroke="#0000ff" stroke-width="10"/>
<text x="1300.8" y="830.3" font-size="65">Rattusin</text>
<line x1="1167.5" y1="890.2" x2="1276.5" y2="890.2" stroke="#ff0000" stroke-width="10"/>
<text x="1300.8" y="909.5" font-size="65">F2</text>
<line x1="1167.5" y1="966.9" x2="1276.5" y2="966.9" stroke="#000000" stroke-width="10"/>
<text x="1300.8" y="986.3" font-size="65">Melittin</text>
<line x1="1167.5" y1="1040.5" x2="1276.5" y2="1040.5" stroke="#00ff00" stroke-width="10"/>
<text x="1300.8" y="1064.9" font-size="65">Buforin-2</text>
</g>
</svg>
</body></html>
